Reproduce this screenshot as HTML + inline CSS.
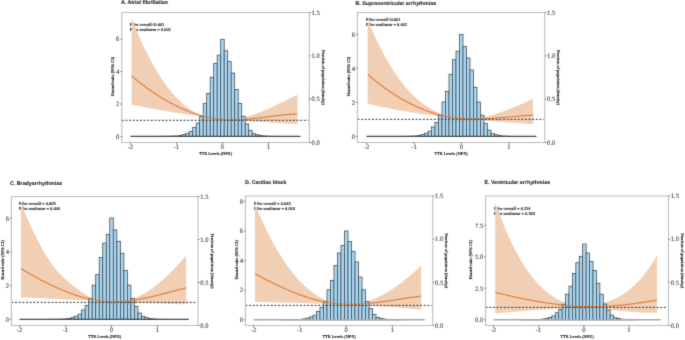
<!DOCTYPE html>
<html><head><meta charset="utf-8"><style>
html,body{margin:0;padding:0;background:#fff;}
body{width:685px;height:340px;overflow:hidden;font-family:"Liberation Sans", sans-serif;}
svg{display:block;will-change:transform;}
text{text-rendering:geometricPrecision;}
</style></head><body>
<svg width="685" height="340" viewBox="0 0 685 340">
<defs><filter id="soft" x="0" y="0" width="685" height="340" filterUnits="userSpaceOnUse" color-interpolation-filters="sRGB"><feConvolveMatrix order="3" kernelMatrix="0.0144 0.0912 0.0144 0.0912 0.5776 0.0912 0.0144 0.0912 0.0144" edgeMode="duplicate" preserveAlpha="true"/></filter></defs>
<g filter="url(#soft)">
<rect width="685" height="340" fill="#fff"/>
<text x="129.80" y="25.90" font-family="'Liberation Serif', serif" font-size="4.45" fill="#111" stroke="#111" stroke-width="0.15">P for overall&lt;0.001</text>
<text x="129.80" y="31.40" font-family="'Liberation Serif', serif" font-size="4.45" fill="#111" stroke="#111" stroke-width="0.15">P for nonlinear = 0.001</text>
<polygon points="131.60,18.09 132.10,19.37 132.60,20.65 133.10,21.91 133.60,23.17 134.10,24.41 134.60,25.65 135.10,26.87 135.60,28.09 136.10,29.29 136.60,30.49 137.10,31.68 137.60,32.85 138.10,34.02 138.60,35.18 139.10,36.33 139.60,37.47 140.10,38.60 140.60,39.72 141.10,40.83 141.60,41.93 142.10,43.02 142.60,44.10 143.10,45.18 143.60,46.24 144.10,47.29 144.60,48.34 145.10,49.38 145.60,50.41 146.10,51.42 146.60,52.43 147.10,53.43 147.60,54.43 148.10,55.41 148.60,56.38 149.10,57.35 149.60,58.30 150.10,59.25 150.60,60.19 151.10,61.12 151.60,62.04 152.10,62.95 152.60,63.86 153.10,64.75 153.60,65.64 154.10,66.52 154.60,67.39 155.10,68.25 155.60,69.10 156.10,69.95 156.60,70.78 157.10,71.61 157.60,72.43 158.10,73.24 158.60,74.04 159.10,74.84 159.60,75.63 160.10,76.40 160.60,77.17 161.10,77.94 161.60,78.69 162.10,79.44 162.60,80.18 163.10,80.91 163.60,81.63 164.10,82.34 164.60,83.05 165.10,83.75 165.60,84.44 166.10,85.12 166.60,85.80 167.10,86.46 167.60,87.12 168.10,87.78 168.60,88.42 169.10,89.06 169.60,89.69 170.10,90.31 170.60,90.93 171.10,91.53 171.60,92.13 172.10,92.73 172.60,93.31 173.10,93.89 173.60,94.46 174.10,95.02 174.60,95.58 175.10,96.13 175.60,96.67 176.10,97.21 176.60,97.73 177.10,98.25 177.60,98.77 178.10,99.28 178.60,99.77 179.10,100.27 179.60,100.75 180.10,101.23 180.60,101.71 181.10,102.17 181.60,102.63 182.10,103.08 182.60,103.53 183.10,103.97 183.60,104.40 184.10,104.82 184.60,105.24 185.10,105.65 185.60,106.06 186.10,106.46 186.60,106.85 187.10,107.24 187.60,107.62 188.10,107.99 188.60,108.36 189.10,108.72 189.60,109.08 190.10,109.43 190.60,109.77 191.10,110.11 191.60,110.44 192.10,110.76 192.60,111.08 193.10,111.39 193.60,111.70 194.10,112.00 194.60,112.29 195.10,112.58 195.60,112.86 196.10,113.14 196.60,113.41 197.10,113.68 197.60,113.94 198.10,114.19 198.60,114.44 199.10,114.68 199.60,114.92 200.10,115.15 200.60,115.38 201.10,115.60 201.60,115.81 202.10,116.02 202.60,116.23 203.10,116.42 203.60,116.62 204.10,116.81 204.60,116.99 205.10,117.17 205.60,117.34 206.10,117.51 206.60,117.67 207.10,117.83 207.60,117.98 208.10,118.13 208.60,118.27 209.10,118.40 209.60,118.54 210.10,118.66 210.60,118.79 211.10,118.90 211.60,119.02 212.10,119.12 212.60,119.23 213.10,119.33 213.60,119.42 214.10,119.51 214.60,119.59 215.10,119.67 215.60,119.75 216.10,119.82 216.60,119.89 217.10,119.95 217.60,120.00 218.10,120.06 218.60,120.11 219.10,120.15 219.60,120.19 220.10,120.23 220.60,120.26 221.10,120.29 221.60,120.31 222.10,120.33 222.60,120.34 223.10,120.35 223.60,120.36 224.10,120.36 224.60,120.36 225.10,120.36 225.60,120.35 226.10,120.33 226.60,120.32 227.10,120.30 227.60,120.27 228.10,120.25 228.60,120.21 229.10,120.18 229.60,120.14 230.10,120.10 230.60,120.05 231.10,120.00 231.60,119.95 232.10,119.89 232.60,119.83 233.10,119.77 233.60,119.70 234.10,119.63 234.60,119.55 235.10,119.48 235.60,119.40 236.10,119.31 236.60,119.23 237.10,119.14 237.60,119.04 238.10,118.95 238.60,118.85 239.10,118.75 239.60,118.64 240.10,118.53 240.60,118.42 241.10,118.31 241.60,118.19 242.10,118.07 242.60,117.95 243.10,117.82 243.60,117.69 244.10,117.56 244.60,117.43 245.10,117.29 245.60,117.15 246.10,117.01 246.60,116.87 247.10,116.72 247.60,116.57 248.10,116.42 248.60,116.27 249.10,116.11 249.60,115.95 250.10,115.79 250.60,115.63 251.10,115.46 251.60,115.29 252.10,115.13 252.60,114.95 253.10,114.78 253.60,114.60 254.10,114.42 254.60,114.24 255.10,114.06 255.60,113.88 256.10,113.69 256.60,113.50 257.10,113.31 257.60,113.12 258.10,112.93 258.60,112.73 259.10,112.53 259.60,112.34 260.10,112.13 260.60,111.93 261.10,111.73 261.60,111.52 262.10,111.32 262.60,111.11 263.10,110.90 263.60,110.69 264.10,110.47 264.60,110.26 265.10,110.04 265.60,109.83 266.10,109.61 266.60,109.39 267.10,109.17 267.60,108.95 268.10,108.72 268.60,108.50 269.10,108.27 269.60,108.05 270.10,107.82 270.60,107.59 271.10,107.36 271.60,107.13 272.10,106.90 272.60,106.67 273.10,106.44 273.60,106.20 274.10,105.97 274.60,105.73 275.10,105.50 275.60,105.26 276.10,105.02 276.60,104.79 277.10,104.55 277.60,104.31 278.10,104.07 278.60,103.83 279.10,103.59 279.60,103.35 280.10,103.11 280.60,102.86 281.10,102.62 281.60,102.38 282.10,102.14 282.60,101.90 283.10,101.65 283.60,101.41 284.10,101.17 284.60,100.92 285.10,100.68 285.60,100.44 286.10,100.19 286.60,99.95 287.10,99.71 287.60,99.46 288.10,99.22 288.60,98.98 289.10,98.74 289.60,98.49 290.10,98.25 290.60,98.01 291.10,97.77 291.60,97.53 292.10,97.29 292.60,97.05 293.10,96.81 293.60,96.57 294.10,96.33 294.60,96.09 295.10,95.85 295.60,95.62 296.10,95.38 296.60,95.14 297.10,94.91 297.60,94.67 297.60,94.67 297.40,124.07 297.10,124.05 296.60,124.03 296.10,124.01 295.60,123.98 295.10,123.96 294.60,123.93 294.10,123.91 293.60,123.89 293.10,123.86 292.60,123.84 292.10,123.81 291.60,123.79 291.10,123.76 290.60,123.74 290.10,123.71 289.60,123.69 289.10,123.66 288.60,123.64 288.10,123.61 287.60,123.58 287.10,123.56 286.60,123.53 286.10,123.51 285.60,123.48 285.10,123.45 284.60,123.43 284.10,123.40 283.60,123.37 283.10,123.34 282.60,123.32 282.10,123.29 281.60,123.26 281.10,123.23 280.60,123.21 280.10,123.18 279.60,123.15 279.10,123.12 278.60,123.09 278.10,123.06 277.60,123.04 277.10,123.01 276.60,122.98 276.10,122.95 275.60,122.92 275.10,122.89 274.60,122.86 274.10,122.83 273.60,122.80 273.10,122.77 272.60,122.74 272.10,122.71 271.60,122.68 271.10,122.64 270.60,122.61 270.10,122.58 269.60,122.55 269.10,122.52 268.60,122.49 268.10,122.46 267.60,122.42 267.10,122.39 266.60,122.36 266.10,122.33 265.60,122.29 265.10,122.26 264.60,122.23 264.10,122.19 263.60,122.16 263.10,122.12 262.60,122.09 262.10,122.06 261.60,122.02 261.10,121.99 260.60,121.95 260.10,121.92 259.60,121.88 259.10,121.85 258.60,121.81 258.10,121.78 257.60,121.74 257.10,121.70 256.60,121.67 256.10,121.63 255.60,121.59 255.10,121.56 254.60,121.52 254.10,121.48 253.60,121.45 253.10,121.41 252.60,121.37 252.10,121.33 251.60,121.29 251.10,121.26 250.60,121.22 250.10,121.18 249.60,121.14 249.10,121.10 248.60,121.06 248.10,121.02 247.60,120.98 247.10,120.94 246.60,120.90 246.10,120.86 245.60,120.82 245.10,120.78 244.60,120.74 244.10,120.70 243.60,120.65 243.10,120.61 242.60,120.57 242.10,120.53 241.60,120.49 241.10,120.44 240.60,120.40 240.10,120.36 239.60,120.32 239.10,120.27 238.60,120.23 238.10,120.18 237.60,120.14 237.10,120.10 236.60,120.05 236.10,120.01 235.60,119.96 235.10,119.92 234.60,119.87 234.10,119.82 233.60,119.78 233.10,119.73 232.60,119.69 232.10,119.64 231.60,119.59 231.10,119.55 230.60,119.50 230.10,119.45 229.60,119.40 229.10,119.36 228.60,119.31 228.10,119.26 227.60,119.21 227.10,119.16 226.60,119.11 226.10,119.06 225.60,119.01 225.10,118.96 224.60,118.91 224.10,118.86 223.60,118.81 223.10,118.76 222.60,118.71 222.10,118.66 221.60,118.61 221.10,118.56 220.60,118.50 220.10,118.45 219.60,118.40 219.10,118.35 218.60,118.29 218.10,118.24 217.60,118.19 217.10,118.13 216.60,118.08 216.10,118.02 215.60,117.97 215.10,117.91 214.60,117.86 214.10,117.80 213.60,117.75 213.10,117.69 212.60,117.64 212.10,117.58 211.60,117.52 211.10,117.47 210.60,117.41 210.10,117.35 209.60,117.29 209.10,117.24 208.60,117.18 208.10,117.12 207.60,117.06 207.10,117.00 206.60,116.94 206.10,116.88 205.60,116.82 205.10,116.76 204.60,116.70 204.10,116.64 203.60,116.58 203.10,116.52 202.60,116.46 202.10,116.40 201.60,116.33 201.10,116.27 200.60,116.21 200.10,116.15 199.60,116.08 199.10,116.02 198.60,115.96 198.10,115.89 197.60,115.83 197.10,115.76 196.60,115.70 196.10,115.63 195.60,115.57 195.10,115.50 194.60,115.44 194.10,115.37 193.60,115.30 193.10,115.24 192.60,115.17 192.10,115.10 191.60,115.04 191.10,114.97 190.60,114.90 190.10,114.83 189.60,114.76 189.10,114.69 188.60,114.62 188.10,114.55 187.60,114.48 187.10,114.41 186.60,114.34 186.10,114.27 185.60,114.20 185.10,114.13 184.60,114.06 184.10,113.98 183.60,113.91 183.10,113.84 182.60,113.77 182.10,113.69 181.60,113.62 181.10,113.55 180.60,113.47 180.10,113.40 179.60,113.32 179.10,113.25 178.60,113.17 178.10,113.10 177.60,113.02 177.10,112.94 176.60,112.87 176.10,112.79 175.60,112.71 175.10,112.63 174.60,112.56 174.10,112.48 173.60,112.40 173.10,112.32 172.60,112.24 172.10,112.16 171.60,112.08 171.10,112.00 170.60,111.92 170.10,111.84 169.60,111.76 169.10,111.68 168.60,111.59 168.10,111.51 167.60,111.43 167.10,111.35 166.60,111.26 166.10,111.18 165.60,111.10 165.10,111.01 164.60,110.93 164.10,110.84 163.60,110.76 163.10,110.67 162.60,110.59 162.10,110.50 161.60,110.41 161.10,110.33 160.60,110.24 160.10,110.15 159.60,110.06 159.10,109.97 158.60,109.89 158.10,109.80 157.60,109.71 157.10,109.62 156.60,109.53 156.10,109.44 155.60,109.35 155.10,109.26 154.60,109.16 154.10,109.07 153.60,108.98 153.10,108.89 152.60,108.80 152.10,108.70 151.60,108.61 151.10,108.52 150.60,108.42 150.10,108.33 149.60,108.23 149.10,108.14 148.60,108.04 148.10,107.94 147.60,107.85 147.10,107.75 146.60,107.65 146.10,107.56 145.60,107.46 145.10,107.36 144.60,107.26 144.10,107.16 143.60,107.07 143.10,106.97 142.60,106.87 142.10,106.77 141.60,106.66 141.10,106.56 140.60,106.46 140.10,106.36 139.60,106.26 139.10,106.16 138.60,106.05 138.10,105.95 137.60,105.85 137.10,105.74 136.60,105.64 136.10,105.53 135.60,105.43 135.10,105.32 134.60,105.22 134.10,105.11 133.60,105.00 133.10,104.90 132.60,104.79 132.10,104.68 131.60,104.57" fill="#f1cfb4" stroke="none"/>
<rect x="157.70" y="136.32" width="3.50" height="0.08" fill="#a9d8f4" stroke="#404448" stroke-width="0.75"/>
<rect x="161.20" y="136.30" width="3.50" height="0.10" fill="#a9d8f4" stroke="#404448" stroke-width="0.75"/>
<rect x="164.70" y="136.25" width="3.50" height="0.15" fill="#a9d8f4" stroke="#404448" stroke-width="0.75"/>
<rect x="168.20" y="136.21" width="3.50" height="0.19" fill="#a9d8f4" stroke="#404448" stroke-width="0.75"/>
<rect x="171.70" y="136.11" width="3.50" height="0.29" fill="#a9d8f4" stroke="#404448" stroke-width="0.75"/>
<rect x="175.20" y="136.01" width="3.50" height="0.39" fill="#a9d8f4" stroke="#404448" stroke-width="0.75"/>
<rect x="178.70" y="135.43" width="3.50" height="0.97" fill="#a9d8f4" stroke="#404448" stroke-width="0.75"/>
<rect x="182.20" y="134.46" width="3.50" height="1.94" fill="#a9d8f4" stroke="#404448" stroke-width="0.75"/>
<rect x="185.70" y="133.29" width="3.50" height="3.11" fill="#a9d8f4" stroke="#404448" stroke-width="0.75"/>
<rect x="189.20" y="131.35" width="3.50" height="5.05" fill="#a9d8f4" stroke="#404448" stroke-width="0.75"/>
<rect x="192.70" y="127.37" width="3.50" height="9.03" fill="#a9d8f4" stroke="#404448" stroke-width="0.75"/>
<rect x="196.20" y="123.00" width="3.50" height="13.40" fill="#a9d8f4" stroke="#404448" stroke-width="0.75"/>
<rect x="199.70" y="116.49" width="3.50" height="19.91" fill="#a9d8f4" stroke="#404448" stroke-width="0.75"/>
<rect x="203.20" y="103.58" width="3.50" height="32.82" fill="#a9d8f4" stroke="#404448" stroke-width="0.75"/>
<rect x="206.70" y="93.38" width="3.50" height="43.02" fill="#a9d8f4" stroke="#404448" stroke-width="0.75"/>
<rect x="210.20" y="77.17" width="3.50" height="59.23" fill="#a9d8f4" stroke="#404448" stroke-width="0.75"/>
<rect x="213.70" y="63.28" width="3.50" height="73.12" fill="#a9d8f4" stroke="#404448" stroke-width="0.75"/>
<rect x="217.20" y="55.13" width="3.50" height="81.27" fill="#a9d8f4" stroke="#404448" stroke-width="0.75"/>
<rect x="220.70" y="39.30" width="3.50" height="97.10" fill="#a9d8f4" stroke="#404448" stroke-width="0.75"/>
<rect x="224.20" y="50.76" width="3.50" height="85.64" fill="#a9d8f4" stroke="#404448" stroke-width="0.75"/>
<rect x="227.70" y="61.63" width="3.50" height="74.77" fill="#a9d8f4" stroke="#404448" stroke-width="0.75"/>
<rect x="231.20" y="73.09" width="3.50" height="63.31" fill="#a9d8f4" stroke="#404448" stroke-width="0.75"/>
<rect x="234.70" y="89.60" width="3.50" height="46.80" fill="#a9d8f4" stroke="#404448" stroke-width="0.75"/>
<rect x="238.20" y="103.58" width="3.50" height="32.82" fill="#a9d8f4" stroke="#404448" stroke-width="0.75"/>
<rect x="241.70" y="116.20" width="3.50" height="20.20" fill="#a9d8f4" stroke="#404448" stroke-width="0.75"/>
<rect x="245.20" y="123.97" width="3.50" height="12.43" fill="#a9d8f4" stroke="#404448" stroke-width="0.75"/>
<rect x="248.70" y="130.38" width="3.50" height="6.02" fill="#a9d8f4" stroke="#404448" stroke-width="0.75"/>
<rect x="252.20" y="133.68" width="3.50" height="2.72" fill="#a9d8f4" stroke="#404448" stroke-width="0.75"/>
<rect x="255.70" y="134.75" width="3.50" height="1.65" fill="#a9d8f4" stroke="#404448" stroke-width="0.75"/>
<rect x="259.20" y="135.62" width="3.50" height="0.78" fill="#a9d8f4" stroke="#404448" stroke-width="0.75"/>
<rect x="262.70" y="136.01" width="3.50" height="0.39" fill="#a9d8f4" stroke="#404448" stroke-width="0.75"/>
<rect x="266.20" y="136.21" width="3.50" height="0.19" fill="#a9d8f4" stroke="#404448" stroke-width="0.75"/>
<rect x="269.70" y="136.28" width="3.50" height="0.12" fill="#a9d8f4" stroke="#404448" stroke-width="0.75"/>
<rect x="273.20" y="136.32" width="3.50" height="0.08" fill="#a9d8f4" stroke="#404448" stroke-width="0.75"/>
<line x1="130.40" y1="136.40" x2="300.50" y2="136.40" stroke="#4a4a4a" stroke-width="1.2"/>
<polyline points="131.60,75.99 132.10,76.41 132.60,76.82 133.10,77.24 133.60,77.65 134.10,78.06 134.60,78.46 135.10,78.87 135.60,79.27 136.10,79.68 136.60,80.08 137.10,80.48 137.60,80.87 138.10,81.27 138.60,81.66 139.10,82.05 139.60,82.44 140.10,82.83 140.60,83.21 141.10,83.60 141.60,83.98 142.10,84.36 142.60,84.74 143.10,85.12 143.60,85.49 144.10,85.87 144.60,86.24 145.10,86.61 145.60,86.97 146.10,87.34 146.60,87.70 147.10,88.07 147.60,88.43 148.10,88.79 148.60,89.14 149.10,89.50 149.60,89.85 150.10,90.20 150.60,90.55 151.10,90.90 151.60,91.24 152.10,91.59 152.60,91.93 153.10,92.27 153.60,92.60 154.10,92.94 154.60,93.27 155.10,93.61 155.60,93.94 156.10,94.27 156.60,94.59 157.10,94.92 157.60,95.24 158.10,95.56 158.60,95.88 159.10,96.20 159.60,96.51 160.10,96.82 160.60,97.13 161.10,97.44 161.60,97.75 162.10,98.05 162.60,98.36 163.10,98.66 163.60,98.96 164.10,99.26 164.60,99.55 165.10,99.84 165.60,100.14 166.10,100.42 166.60,100.71 167.10,101.00 167.60,101.28 168.10,101.56 168.60,101.84 169.10,102.12 169.60,102.39 170.10,102.67 170.60,102.94 171.10,103.21 171.60,103.48 172.10,103.74 172.60,104.00 173.10,104.26 173.60,104.52 174.10,104.78 174.60,105.04 175.10,105.29 175.60,105.54 176.10,105.79 176.60,106.04 177.10,106.28 177.60,106.52 178.10,106.76 178.60,107.00 179.10,107.24 179.60,107.47 180.10,107.70 180.60,107.94 181.10,108.16 181.60,108.39 182.10,108.61 182.60,108.84 183.10,109.05 183.60,109.27 184.10,109.49 184.60,109.70 185.10,109.91 185.60,110.12 186.10,110.33 186.60,110.53 187.10,110.74 187.60,110.94 188.10,111.14 188.60,111.33 189.10,111.53 189.60,111.72 190.10,111.91 190.60,112.10 191.10,112.28 191.60,112.46 192.10,112.65 192.60,112.82 193.10,113.00 193.60,113.18 194.10,113.35 194.60,113.52 195.10,113.69 195.60,113.85 196.10,114.02 196.60,114.18 197.10,114.34 197.60,114.49 198.10,114.65 198.60,114.80 199.10,114.95 199.60,115.10 200.10,115.25 200.60,115.39 201.10,115.53 201.60,115.67 202.10,115.81 202.60,115.94 203.10,116.07 203.60,116.20 204.10,116.33 204.60,116.46 205.10,116.58 205.60,116.70 206.10,116.82 206.60,116.94 207.10,117.05 207.60,117.17 208.10,117.28 208.60,117.38 209.10,117.49 209.60,117.59 210.10,117.69 210.60,117.79 211.10,117.89 211.60,117.98 212.10,118.07 212.60,118.16 213.10,118.25 213.60,118.33 214.10,118.41 214.60,118.49 215.10,118.57 215.60,118.65 216.10,118.72 216.60,118.79 217.10,118.86 217.60,118.92 218.10,118.99 218.60,119.05 219.10,119.11 219.60,119.16 220.10,119.22 220.60,119.27 221.10,119.32 221.60,119.36 222.10,119.41 222.60,119.45 223.10,119.49 223.60,119.53 224.10,119.56 224.60,119.59 225.10,119.63 225.60,119.65 226.10,119.68 226.60,119.70 227.10,119.73 227.60,119.74 228.10,119.76 228.60,119.78 229.10,119.79 229.60,119.80 230.10,119.81 230.60,119.82 231.10,119.83 231.60,119.83 232.10,119.83 232.60,119.83 233.10,119.83 233.60,119.83 234.10,119.82 234.60,119.81 235.10,119.80 235.60,119.79 236.10,119.78 236.60,119.77 237.10,119.75 237.60,119.74 238.10,119.72 238.60,119.70 239.10,119.67 239.60,119.65 240.10,119.63 240.60,119.60 241.10,119.57 241.60,119.55 242.10,119.51 242.60,119.48 243.10,119.45 243.60,119.42 244.10,119.38 244.60,119.34 245.10,119.31 245.60,119.27 246.10,119.23 246.60,119.19 247.10,119.15 247.60,119.10 248.10,119.06 248.60,119.01 249.10,118.97 249.60,118.92 250.10,118.87 250.60,118.82 251.10,118.77 251.60,118.72 252.10,118.67 252.60,118.62 253.10,118.56 253.60,118.51 254.10,118.46 254.60,118.40 255.10,118.34 255.60,118.29 256.10,118.23 256.60,118.17 257.10,118.11 257.60,118.06 258.10,118.00 258.60,117.94 259.10,117.88 259.60,117.82 260.10,117.75 260.60,117.69 261.10,117.63 261.60,117.57 262.10,117.51 262.60,117.44 263.10,117.38 263.60,117.32 264.10,117.25 264.60,117.19 265.10,117.13 265.60,117.06 266.10,117.00 266.60,116.93 267.10,116.87 267.60,116.81 268.10,116.74 268.60,116.68 269.10,116.62 269.60,116.55 270.10,116.49 270.60,116.42 271.10,116.36 271.60,116.30 272.10,116.24 272.60,116.17 273.10,116.11 273.60,116.05 274.10,115.99 274.60,115.93 275.10,115.86 275.60,115.80 276.10,115.74 276.60,115.68 277.10,115.63 277.60,115.57 278.10,115.51 278.60,115.45 279.10,115.39 279.60,115.34 280.10,115.28 280.60,115.23 281.10,115.17 281.60,115.12 282.10,115.07 282.60,115.02 283.10,114.97 283.60,114.91 284.10,114.87 284.60,114.82 285.10,114.77 285.60,114.72 286.10,114.68 286.60,114.63 287.10,114.59 287.60,114.55 288.10,114.51 288.60,114.46 289.10,114.43 289.60,114.39 290.10,114.35 290.60,114.31 291.10,114.28 291.60,114.25 292.10,114.22 292.60,114.18 293.10,114.16 293.60,114.13 294.10,114.10 294.60,114.08 295.10,114.05 295.60,114.03 296.10,114.01 296.60,113.99 297.10,113.97 297.40,113.96" fill="none" stroke="#dd7a35" stroke-width="1.1"/>
<line x1="121.80" y1="120.30" x2="308.30" y2="120.30" stroke="#333" stroke-width="1.0" stroke-dasharray="2.0,1.64"/>
<path d="M121.8,142.5 L121.8,12.5 L309.3,12.5 L309.3,142.5 Z" fill="none" stroke="#bdbdbd" stroke-width="1.1"/>
<line x1="120.20" y1="136.40" x2="121.80" y2="136.40" stroke="#555" stroke-width="0.7"/>
<text x="119.40" y="138.60" text-anchor="end" font-family="'Liberation Serif', serif" font-size="6.6" fill="#3a3a3a" stroke="#3a3a3a" stroke-width="0.1">0</text>
<line x1="120.20" y1="104.00" x2="121.80" y2="104.00" stroke="#555" stroke-width="0.7"/>
<text x="119.40" y="106.20" text-anchor="end" font-family="'Liberation Serif', serif" font-size="6.6" fill="#3a3a3a" stroke="#3a3a3a" stroke-width="0.1">2</text>
<line x1="120.20" y1="71.60" x2="121.80" y2="71.60" stroke="#555" stroke-width="0.7"/>
<text x="119.40" y="73.80" text-anchor="end" font-family="'Liberation Serif', serif" font-size="6.6" fill="#3a3a3a" stroke="#3a3a3a" stroke-width="0.1">4</text>
<line x1="120.20" y1="39.20" x2="121.80" y2="39.20" stroke="#555" stroke-width="0.7"/>
<text x="119.40" y="41.40" text-anchor="end" font-family="'Liberation Serif', serif" font-size="6.6" fill="#3a3a3a" stroke="#3a3a3a" stroke-width="0.1">6</text>
<line x1="309.30" y1="142.50" x2="310.90" y2="142.50" stroke="#555" stroke-width="0.7"/>
<text x="311.60" y="144.70" font-family="'Liberation Serif', serif" font-size="6.6" fill="#3a3a3a" stroke="#3a3a3a" stroke-width="0.1">0.0</text>
<line x1="309.30" y1="99.17" x2="310.90" y2="99.17" stroke="#555" stroke-width="0.7"/>
<text x="311.60" y="101.37" font-family="'Liberation Serif', serif" font-size="6.6" fill="#3a3a3a" stroke="#3a3a3a" stroke-width="0.1">0.5</text>
<line x1="309.30" y1="55.83" x2="310.90" y2="55.83" stroke="#555" stroke-width="0.7"/>
<text x="311.60" y="58.03" font-family="'Liberation Serif', serif" font-size="6.6" fill="#3a3a3a" stroke="#3a3a3a" stroke-width="0.1">1.0</text>
<line x1="309.30" y1="12.50" x2="310.90" y2="12.50" stroke="#555" stroke-width="0.7"/>
<text x="311.60" y="14.70" font-family="'Liberation Serif', serif" font-size="6.6" fill="#3a3a3a" stroke="#3a3a3a" stroke-width="0.1">1.5</text>
<line x1="130.40" y1="142.50" x2="130.40" y2="144.10" stroke="#555" stroke-width="0.7"/>
<text x="130.40" y="149.30" text-anchor="middle" font-family="'Liberation Serif', serif" font-size="6.6" fill="#3a3a3a" stroke="#3a3a3a" stroke-width="0.1">-2</text>
<line x1="176.40" y1="142.50" x2="176.40" y2="144.10" stroke="#555" stroke-width="0.7"/>
<text x="176.40" y="149.30" text-anchor="middle" font-family="'Liberation Serif', serif" font-size="6.6" fill="#3a3a3a" stroke="#3a3a3a" stroke-width="0.1">-1</text>
<line x1="222.40" y1="142.50" x2="222.40" y2="144.10" stroke="#555" stroke-width="0.7"/>
<text x="222.40" y="149.30" text-anchor="middle" font-family="'Liberation Serif', serif" font-size="6.6" fill="#3a3a3a" stroke="#3a3a3a" stroke-width="0.1">0</text>
<line x1="268.40" y1="142.50" x2="268.40" y2="144.10" stroke="#555" stroke-width="0.7"/>
<text x="268.40" y="149.30" text-anchor="middle" font-family="'Liberation Serif', serif" font-size="6.6" fill="#3a3a3a" stroke="#3a3a3a" stroke-width="0.1">1</text>
<text x="215.55" y="155.30" text-anchor="middle" font-family="'Liberation Serif', serif" font-size="4.3" fill="#111" stroke="#111" stroke-width="0.15">TTR Levels (NPX)</text>
<text transform="translate(114.20,76.50) rotate(-90)" text-anchor="middle" font-family="'Liberation Serif', serif" font-size="4.4" fill="#111" stroke="#111" stroke-width="0.15">Hazard ratio (95% CI)</text>
<text transform="translate(321.90,77.50) rotate(90)" text-anchor="middle" font-family="'Liberation Serif', serif" font-size="4.3" fill="#111" stroke="#111" stroke-width="0.15">Fraction of population (density)</text>
<text x="120.90" y="4.30" font-family="'Liberation Sans', sans-serif" font-weight="bold" font-size="5.3" fill="#3a2f2f" stroke="#3a2f2f" stroke-width="0.15">A. Atrial fibrillation</text>
<text x="365.90" y="21.10" font-family="'Liberation Serif', serif" font-size="4.45" fill="#111" stroke="#111" stroke-width="0.15">P for overall&lt;0.001</text>
<text x="365.90" y="26.40" font-family="'Liberation Serif', serif" font-size="4.45" fill="#111" stroke="#111" stroke-width="0.15">P for nonlinear = 0.002</text>
<polygon points="367.70,19.59 368.20,20.82 368.70,22.04 369.20,23.25 369.70,24.44 370.20,25.63 370.70,26.81 371.20,27.98 371.70,29.14 372.20,30.29 372.70,31.43 373.20,32.56 373.70,33.68 374.20,34.79 374.70,35.89 375.20,36.98 375.70,38.06 376.20,39.13 376.70,40.19 377.20,41.25 377.70,42.29 378.20,43.33 378.70,44.35 379.20,45.37 379.70,46.37 380.20,47.37 380.70,48.36 381.20,49.34 381.70,50.31 382.20,51.27 382.70,52.23 383.20,53.17 383.70,54.11 384.20,55.03 384.70,55.95 385.20,56.86 385.70,57.76 386.20,58.65 386.70,59.53 387.20,60.41 387.70,61.27 388.20,62.13 388.70,62.98 389.20,63.82 389.70,64.66 390.20,65.48 390.70,66.30 391.20,67.10 391.70,67.90 392.20,68.70 392.70,69.48 393.20,70.26 393.70,71.02 394.20,71.78 394.70,72.54 395.20,73.28 395.70,74.02 396.20,74.75 396.70,75.47 397.20,76.18 397.70,76.89 398.20,77.58 398.70,78.27 399.20,78.96 399.70,79.63 400.20,80.30 400.70,80.96 401.20,81.62 401.70,82.26 402.20,82.90 402.70,83.53 403.20,84.16 403.70,84.78 404.20,85.39 404.70,85.99 405.20,86.59 405.70,87.18 406.20,87.76 406.70,88.34 407.20,88.91 407.70,89.47 408.20,90.03 408.70,90.57 409.20,91.12 409.70,91.65 410.20,92.18 410.70,92.71 411.20,93.22 411.70,93.73 412.20,94.24 412.70,94.73 413.20,95.23 413.70,95.71 414.20,96.19 414.70,96.66 415.20,97.13 415.70,97.59 416.20,98.04 416.70,98.49 417.20,98.94 417.70,99.37 418.20,99.80 418.70,100.23 419.20,100.65 419.70,101.06 420.20,101.47 420.70,101.87 421.20,102.27 421.70,102.66 422.20,103.05 422.70,103.43 423.20,103.80 423.70,104.17 424.20,104.54 424.70,104.89 425.20,105.25 425.70,105.60 426.20,105.94 426.70,106.28 427.20,106.61 427.70,106.94 428.20,107.26 428.70,107.58 429.20,107.89 429.70,108.20 430.20,108.50 430.70,108.80 431.20,109.09 431.70,109.38 432.20,109.67 432.70,109.94 433.20,110.22 433.70,110.49 434.20,110.75 434.70,111.01 435.20,111.26 435.70,111.51 436.20,111.76 436.70,112.00 437.20,112.23 437.70,112.46 438.20,112.69 438.70,112.91 439.20,113.13 439.70,113.34 440.20,113.55 440.70,113.75 441.20,113.95 441.70,114.14 442.20,114.33 442.70,114.52 443.20,114.70 443.70,114.88 444.20,115.05 444.70,115.22 445.20,115.38 445.70,115.54 446.20,115.70 446.70,115.85 447.20,116.00 447.70,116.14 448.20,116.28 448.70,116.41 449.20,116.54 449.70,116.67 450.20,116.79 450.70,116.91 451.20,117.02 451.70,117.13 452.20,117.24 452.70,117.34 453.20,117.44 453.70,117.53 454.20,117.62 454.70,117.71 455.20,117.79 455.70,117.87 456.20,117.95 456.70,118.02 457.20,118.09 457.70,118.15 458.20,118.21 458.70,118.27 459.20,118.32 459.70,118.37 460.20,118.42 460.70,118.46 461.20,118.50 461.70,118.53 462.20,118.56 462.70,118.59 463.20,118.62 463.70,118.64 464.20,118.65 464.70,118.67 465.20,118.68 465.70,118.69 466.20,118.69 466.70,118.69 467.20,118.69 467.70,118.69 468.20,118.68 468.70,118.66 469.20,118.65 469.70,118.63 470.20,118.61 470.70,118.58 471.20,118.56 471.70,118.53 472.20,118.49 472.70,118.46 473.20,118.42 473.70,118.37 474.20,118.33 474.70,118.28 475.20,118.23 475.70,118.17 476.20,118.12 476.70,118.05 477.20,117.99 477.70,117.93 478.20,117.86 478.70,117.79 479.20,117.71 479.70,117.64 480.20,117.56 480.70,117.47 481.20,117.39 481.70,117.30 482.20,117.21 482.70,117.12 483.20,117.02 483.70,116.93 484.20,116.83 484.70,116.72 485.20,116.62 485.70,116.51 486.20,116.40 486.70,116.29 487.20,116.18 487.70,116.06 488.20,115.94 488.70,115.82 489.20,115.69 489.70,115.57 490.20,115.44 490.70,115.31 491.20,115.18 491.70,115.04 492.20,114.91 492.70,114.77 493.20,114.63 493.70,114.48 494.20,114.34 494.70,114.19 495.20,114.04 495.70,113.89 496.20,113.74 496.70,113.58 497.20,113.43 497.70,113.27 498.20,113.11 498.70,112.94 499.20,112.78 499.70,112.61 500.20,112.45 500.70,112.28 501.20,112.11 501.70,111.93 502.20,111.76 502.70,111.58 503.20,111.40 503.70,111.23 504.20,111.04 504.70,110.86 505.20,110.68 505.70,110.49 506.20,110.31 506.70,110.12 507.20,109.93 507.70,109.74 508.20,109.54 508.70,109.35 509.20,109.15 509.70,108.96 510.20,108.76 510.70,108.56 511.20,108.36 511.70,108.16 512.20,107.96 512.70,107.75 513.20,107.55 513.70,107.34 514.20,107.13 514.70,106.92 515.20,106.72 515.70,106.50 516.20,106.29 516.70,106.08 517.20,105.87 517.70,105.65 518.20,105.44 518.70,105.22 519.20,105.00 519.70,104.79 520.20,104.57 520.70,104.35 521.20,104.13 521.70,103.91 522.20,103.68 522.70,103.46 523.20,103.24 523.70,103.01 524.20,102.79 524.70,102.56 525.20,102.34 525.70,102.11 526.20,101.88 526.70,101.66 527.20,101.43 527.70,101.20 528.20,100.97 528.70,100.74 529.20,100.51 529.70,100.28 530.20,100.05 530.70,99.82 531.20,99.59 531.70,99.36 532.20,99.12 532.70,98.89 532.80,98.85 533.30,124.20 533.20,124.19 532.70,124.15 532.20,124.12 531.70,124.08 531.20,124.05 530.70,124.02 530.20,123.98 529.70,123.95 529.20,123.91 528.70,123.88 528.20,123.84 527.70,123.81 527.20,123.78 526.70,123.74 526.20,123.71 525.70,123.67 525.20,123.64 524.70,123.60 524.20,123.57 523.70,123.54 523.20,123.50 522.70,123.47 522.20,123.43 521.70,123.40 521.20,123.36 520.70,123.33 520.20,123.30 519.70,123.26 519.20,123.23 518.70,123.19 518.20,123.16 517.70,123.12 517.20,123.09 516.70,123.05 516.20,123.02 515.70,122.98 515.20,122.95 514.70,122.92 514.20,122.88 513.70,122.85 513.20,122.81 512.70,122.78 512.20,122.74 511.70,122.71 511.20,122.67 510.70,122.64 510.20,122.60 509.70,122.57 509.20,122.53 508.70,122.50 508.20,122.46 507.70,122.43 507.20,122.39 506.70,122.35 506.20,122.32 505.70,122.28 505.20,122.25 504.70,122.21 504.20,122.18 503.70,122.14 503.20,122.10 502.70,122.07 502.20,122.03 501.70,122.00 501.20,121.96 500.70,121.92 500.20,121.89 499.70,121.85 499.20,121.81 498.70,121.78 498.20,121.74 497.70,121.70 497.20,121.67 496.70,121.63 496.20,121.59 495.70,121.55 495.20,121.52 494.70,121.48 494.20,121.44 493.70,121.40 493.20,121.37 492.70,121.33 492.20,121.29 491.70,121.25 491.20,121.21 490.70,121.17 490.20,121.14 489.70,121.10 489.20,121.06 488.70,121.02 488.20,120.98 487.70,120.94 487.20,120.90 486.70,120.86 486.20,120.82 485.70,120.78 485.20,120.74 484.70,120.70 484.20,120.66 483.70,120.62 483.20,120.58 482.70,120.54 482.20,120.50 481.70,120.46 481.20,120.42 480.70,120.38 480.20,120.34 479.70,120.30 479.20,120.25 478.70,120.21 478.20,120.17 477.70,120.13 477.20,120.09 476.70,120.04 476.20,120.00 475.70,119.96 475.20,119.91 474.70,119.87 474.20,119.83 473.70,119.78 473.20,119.74 472.70,119.70 472.20,119.65 471.70,119.61 471.20,119.56 470.70,119.52 470.20,119.47 469.70,119.43 469.20,119.38 468.70,119.34 468.20,119.29 467.70,119.25 467.20,119.20 466.70,119.16 466.20,119.11 465.70,119.06 465.20,119.02 464.70,118.97 464.20,118.92 463.70,118.87 463.20,118.83 462.70,118.78 462.20,118.73 461.70,118.68 461.20,118.63 460.70,118.58 460.20,118.53 459.70,118.49 459.20,118.44 458.70,118.39 458.20,118.34 457.70,118.29 457.20,118.24 456.70,118.18 456.20,118.13 455.70,118.08 455.20,118.03 454.70,117.98 454.20,117.93 453.70,117.88 453.20,117.82 452.70,117.77 452.20,117.72 451.70,117.66 451.20,117.61 450.70,117.56 450.20,117.50 449.70,117.45 449.20,117.39 448.70,117.34 448.20,117.29 447.70,117.23 447.20,117.17 446.70,117.12 446.20,117.06 445.70,117.01 445.20,116.95 444.70,116.89 444.20,116.84 443.70,116.78 443.20,116.72 442.70,116.66 442.20,116.60 441.70,116.54 441.20,116.49 440.70,116.43 440.20,116.37 439.70,116.31 439.20,116.25 438.70,116.19 438.20,116.13 437.70,116.07 437.20,116.00 436.70,115.94 436.20,115.88 435.70,115.82 435.20,115.76 434.70,115.69 434.20,115.63 433.70,115.57 433.20,115.50 432.70,115.44 432.20,115.37 431.70,115.31 431.20,115.24 430.70,115.18 430.20,115.11 429.70,115.05 429.20,114.98 428.70,114.91 428.20,114.84 427.70,114.78 427.20,114.71 426.70,114.64 426.20,114.57 425.70,114.50 425.20,114.43 424.70,114.37 424.20,114.30 423.70,114.22 423.20,114.15 422.70,114.08 422.20,114.01 421.70,113.94 421.20,113.87 420.70,113.80 420.20,113.72 419.70,113.65 419.20,113.58 418.70,113.50 418.20,113.43 417.70,113.35 417.20,113.28 416.70,113.20 416.20,113.13 415.70,113.05 415.20,112.97 414.70,112.90 414.20,112.82 413.70,112.74 413.20,112.66 412.70,112.59 412.20,112.51 411.70,112.43 411.20,112.35 410.70,112.27 410.20,112.19 409.70,112.11 409.20,112.02 408.70,111.94 408.20,111.86 407.70,111.78 407.20,111.69 406.70,111.61 406.20,111.53 405.70,111.44 405.20,111.36 404.70,111.27 404.20,111.19 403.70,111.10 403.20,111.02 402.70,110.93 402.20,110.84 401.70,110.75 401.20,110.67 400.70,110.58 400.20,110.49 399.70,110.40 399.20,110.31 398.70,110.22 398.20,110.13 397.70,110.04 397.20,109.95 396.70,109.85 396.20,109.76 395.70,109.67 395.20,109.58 394.70,109.48 394.20,109.39 393.70,109.29 393.20,109.20 392.70,109.10 392.20,109.01 391.70,108.91 391.20,108.81 390.70,108.71 390.20,108.62 389.70,108.52 389.20,108.42 388.70,108.32 388.20,108.22 387.70,108.12 387.20,108.02 386.70,107.92 386.20,107.82 385.70,107.71 385.20,107.61 384.70,107.51 384.20,107.40 383.70,107.30 383.20,107.19 382.70,107.09 382.20,106.98 381.70,106.88 381.20,106.77 380.70,106.66 380.20,106.55 379.70,106.45 379.20,106.34 378.70,106.23 378.20,106.12 377.70,106.01 377.20,105.90 376.70,105.79 376.20,105.67 375.70,105.56 375.20,105.45 374.70,105.33 374.20,105.22 373.70,105.11 373.20,104.99 372.70,104.88 372.20,104.76 371.70,104.64 371.20,104.53 370.70,104.41 370.20,104.29 369.70,104.17 369.20,104.05 368.70,103.93 368.20,103.81 367.70,103.69" fill="#f1cfb4" stroke="none"/>
<rect x="396.50" y="136.37" width="3.50" height="0.08" fill="#a9d8f4" stroke="#404448" stroke-width="0.75"/>
<rect x="400.00" y="136.35" width="3.50" height="0.10" fill="#a9d8f4" stroke="#404448" stroke-width="0.75"/>
<rect x="403.50" y="136.30" width="3.50" height="0.15" fill="#a9d8f4" stroke="#404448" stroke-width="0.75"/>
<rect x="407.00" y="136.25" width="3.50" height="0.20" fill="#a9d8f4" stroke="#404448" stroke-width="0.75"/>
<rect x="410.50" y="136.14" width="3.50" height="0.31" fill="#a9d8f4" stroke="#404448" stroke-width="0.75"/>
<rect x="414.00" y="136.04" width="3.50" height="0.41" fill="#a9d8f4" stroke="#404448" stroke-width="0.75"/>
<rect x="417.50" y="135.43" width="3.50" height="1.02" fill="#a9d8f4" stroke="#404448" stroke-width="0.75"/>
<rect x="421.00" y="134.41" width="3.50" height="2.04" fill="#a9d8f4" stroke="#404448" stroke-width="0.75"/>
<rect x="424.50" y="133.19" width="3.50" height="3.26" fill="#a9d8f4" stroke="#404448" stroke-width="0.75"/>
<rect x="428.00" y="131.15" width="3.50" height="5.30" fill="#a9d8f4" stroke="#404448" stroke-width="0.75"/>
<rect x="431.50" y="126.97" width="3.50" height="9.48" fill="#a9d8f4" stroke="#404448" stroke-width="0.75"/>
<rect x="435.00" y="122.39" width="3.50" height="14.06" fill="#a9d8f4" stroke="#404448" stroke-width="0.75"/>
<rect x="438.50" y="115.56" width="3.50" height="20.89" fill="#a9d8f4" stroke="#404448" stroke-width="0.75"/>
<rect x="442.00" y="102.01" width="3.50" height="34.44" fill="#a9d8f4" stroke="#404448" stroke-width="0.75"/>
<rect x="445.50" y="91.31" width="3.50" height="45.14" fill="#a9d8f4" stroke="#404448" stroke-width="0.75"/>
<rect x="449.00" y="74.29" width="3.50" height="62.16" fill="#a9d8f4" stroke="#404448" stroke-width="0.75"/>
<rect x="452.50" y="59.72" width="3.50" height="76.73" fill="#a9d8f4" stroke="#404448" stroke-width="0.75"/>
<rect x="456.00" y="51.16" width="3.50" height="85.29" fill="#a9d8f4" stroke="#404448" stroke-width="0.75"/>
<rect x="459.50" y="34.55" width="3.50" height="101.90" fill="#a9d8f4" stroke="#404448" stroke-width="0.75"/>
<rect x="463.00" y="46.57" width="3.50" height="89.88" fill="#a9d8f4" stroke="#404448" stroke-width="0.75"/>
<rect x="466.50" y="57.99" width="3.50" height="78.46" fill="#a9d8f4" stroke="#404448" stroke-width="0.75"/>
<rect x="470.00" y="70.01" width="3.50" height="66.44" fill="#a9d8f4" stroke="#404448" stroke-width="0.75"/>
<rect x="473.50" y="87.33" width="3.50" height="49.12" fill="#a9d8f4" stroke="#404448" stroke-width="0.75"/>
<rect x="477.00" y="102.01" width="3.50" height="34.44" fill="#a9d8f4" stroke="#404448" stroke-width="0.75"/>
<rect x="480.50" y="115.25" width="3.50" height="21.20" fill="#a9d8f4" stroke="#404448" stroke-width="0.75"/>
<rect x="484.00" y="123.41" width="3.50" height="13.04" fill="#a9d8f4" stroke="#404448" stroke-width="0.75"/>
<rect x="487.50" y="130.13" width="3.50" height="6.32" fill="#a9d8f4" stroke="#404448" stroke-width="0.75"/>
<rect x="491.00" y="133.60" width="3.50" height="2.85" fill="#a9d8f4" stroke="#404448" stroke-width="0.75"/>
<rect x="494.50" y="134.72" width="3.50" height="1.73" fill="#a9d8f4" stroke="#404448" stroke-width="0.75"/>
<rect x="498.00" y="135.63" width="3.50" height="0.82" fill="#a9d8f4" stroke="#404448" stroke-width="0.75"/>
<rect x="501.50" y="136.04" width="3.50" height="0.41" fill="#a9d8f4" stroke="#404448" stroke-width="0.75"/>
<rect x="505.00" y="136.25" width="3.50" height="0.20" fill="#a9d8f4" stroke="#404448" stroke-width="0.75"/>
<rect x="508.50" y="136.33" width="3.50" height="0.12" fill="#a9d8f4" stroke="#404448" stroke-width="0.75"/>
<rect x="512.00" y="136.37" width="3.50" height="0.08" fill="#a9d8f4" stroke="#404448" stroke-width="0.75"/>
<line x1="366.46" y1="136.45" x2="536.40" y2="136.45" stroke="#4a4a4a" stroke-width="1.2"/>
<polyline points="367.70,74.23 368.20,74.67 368.70,75.11 369.20,75.55 369.70,75.99 370.20,76.43 370.70,76.86 371.20,77.29 371.70,77.72 372.20,78.14 372.70,78.56 373.20,78.98 373.70,79.40 374.20,79.82 374.70,80.23 375.20,80.64 375.70,81.04 376.20,81.45 376.70,81.85 377.20,82.25 377.70,82.65 378.20,83.04 378.70,83.44 379.20,83.83 379.70,84.21 380.20,84.60 380.70,84.98 381.20,85.36 381.70,85.74 382.20,86.12 382.70,86.49 383.20,86.86 383.70,87.23 384.20,87.60 384.70,87.96 385.20,88.32 385.70,88.68 386.20,89.04 386.70,89.39 387.20,89.74 387.70,90.09 388.20,90.44 388.70,90.79 389.20,91.13 389.70,91.47 390.20,91.81 390.70,92.15 391.20,92.48 391.70,92.81 392.20,93.14 392.70,93.47 393.20,93.79 393.70,94.12 394.20,94.44 394.70,94.76 395.20,95.07 395.70,95.39 396.20,95.70 396.70,96.01 397.20,96.31 397.70,96.62 398.20,96.92 398.70,97.22 399.20,97.52 399.70,97.82 400.20,98.12 400.70,98.41 401.20,98.70 401.70,98.99 402.20,99.27 402.70,99.56 403.20,99.84 403.70,100.12 404.20,100.40 404.70,100.68 405.20,100.95 405.70,101.22 406.20,101.49 406.70,101.76 407.20,102.03 407.70,102.29 408.20,102.55 408.70,102.81 409.20,103.07 409.70,103.33 410.20,103.58 410.70,103.83 411.20,104.08 411.70,104.33 412.20,104.58 412.70,104.82 413.20,105.06 413.70,105.30 414.20,105.54 414.70,105.77 415.20,106.01 415.70,106.24 416.20,106.47 416.70,106.70 417.20,106.92 417.70,107.14 418.20,107.37 418.70,107.58 419.20,107.80 419.70,108.02 420.20,108.23 420.70,108.44 421.20,108.65 421.70,108.86 422.20,109.06 422.70,109.26 423.20,109.46 423.70,109.66 424.20,109.86 424.70,110.05 425.20,110.24 425.70,110.43 426.20,110.62 426.70,110.81 427.20,110.99 427.70,111.17 428.20,111.35 428.70,111.53 429.20,111.71 429.70,111.88 430.20,112.05 430.70,112.22 431.20,112.39 431.70,112.55 432.20,112.71 432.70,112.87 433.20,113.03 433.70,113.19 434.20,113.34 434.70,113.50 435.20,113.65 435.70,113.79 436.20,113.94 436.70,114.08 437.20,114.23 437.70,114.37 438.20,114.50 438.70,114.64 439.20,114.77 439.70,114.90 440.20,115.03 440.70,115.16 441.20,115.28 441.70,115.41 442.20,115.53 442.70,115.65 443.20,115.76 443.70,115.88 444.20,115.99 444.70,116.10 445.20,116.21 445.70,116.31 446.20,116.41 446.70,116.52 447.20,116.61 447.70,116.71 448.20,116.81 448.70,116.90 449.20,116.99 449.70,117.08 450.20,117.16 450.70,117.25 451.20,117.33 451.70,117.41 452.20,117.49 452.70,117.56 453.20,117.64 453.70,117.71 454.20,117.78 454.70,117.84 455.20,117.91 455.70,117.97 456.20,118.03 456.70,118.09 457.20,118.15 457.70,118.20 458.20,118.26 458.70,118.31 459.20,118.36 459.70,118.41 460.20,118.45 460.70,118.49 461.20,118.54 461.70,118.58 462.20,118.61 462.70,118.65 463.20,118.69 463.70,118.72 464.20,118.75 464.70,118.78 465.20,118.81 465.70,118.83 466.20,118.86 466.70,118.88 467.20,118.90 467.70,118.92 468.20,118.94 468.70,118.96 469.20,118.97 469.70,118.99 470.20,119.00 470.70,119.01 471.20,119.02 471.70,119.03 472.20,119.03 472.70,119.04 473.20,119.04 473.70,119.05 474.20,119.05 474.70,119.05 475.20,119.04 475.70,119.04 476.20,119.04 476.70,119.03 477.20,119.03 477.70,119.02 478.20,119.01 478.70,119.00 479.20,118.99 479.70,118.98 480.20,118.96 480.70,118.95 481.20,118.93 481.70,118.92 482.20,118.90 482.70,118.88 483.20,118.86 483.70,118.84 484.20,118.82 484.70,118.80 485.20,118.77 485.70,118.75 486.20,118.72 486.70,118.70 487.20,118.67 487.70,118.64 488.20,118.61 488.70,118.59 489.20,118.56 489.70,118.53 490.20,118.49 490.70,118.46 491.20,118.43 491.70,118.40 492.20,118.36 492.70,118.33 493.20,118.29 493.70,118.26 494.20,118.22 494.70,118.18 495.20,118.14 495.70,118.11 496.20,118.07 496.70,118.03 497.20,117.99 497.70,117.95 498.20,117.91 498.70,117.87 499.20,117.83 499.70,117.79 500.20,117.74 500.70,117.70 501.20,117.66 501.70,117.62 502.20,117.57 502.70,117.53 503.20,117.49 503.70,117.44 504.20,117.40 504.70,117.36 505.20,117.31 505.70,117.27 506.20,117.22 506.70,117.18 507.20,117.14 507.70,117.09 508.20,117.05 508.70,117.00 509.20,116.96 509.70,116.91 510.20,116.87 510.70,116.82 511.20,116.78 511.70,116.73 512.20,116.69 512.70,116.65 513.20,116.60 513.70,116.56 514.20,116.52 514.70,116.47 515.20,116.43 515.70,116.39 516.20,116.34 516.70,116.30 517.20,116.26 517.70,116.22 518.20,116.18 518.70,116.14 519.20,116.10 519.70,116.06 520.20,116.02 520.70,115.98 521.20,115.94 521.70,115.90 522.20,115.86 522.70,115.83 523.20,115.79 523.70,115.75 524.20,115.72 524.70,115.68 525.20,115.65 525.70,115.61 526.20,115.58 526.70,115.55 527.20,115.52 527.70,115.49 528.20,115.46 528.70,115.43 529.20,115.40 529.70,115.37 530.20,115.34 530.70,115.32 531.20,115.29 531.70,115.27 532.20,115.24 532.70,115.22 533.20,115.20 533.30,115.19" fill="none" stroke="#dd7a35" stroke-width="1.1"/>
<line x1="357.40" y1="119.30" x2="543.80" y2="119.30" stroke="#333" stroke-width="1.0" stroke-dasharray="2.0,1.64"/>
<path d="M357.4,142.5 L357.4,12.5 L544.8,12.5 L544.8,142.5 Z" fill="none" stroke="#bdbdbd" stroke-width="1.1"/>
<line x1="355.80" y1="136.45" x2="357.40" y2="136.45" stroke="#555" stroke-width="0.7"/>
<text x="355.00" y="138.65" text-anchor="end" font-family="'Liberation Serif', serif" font-size="6.6" fill="#3a3a3a" stroke="#3a3a3a" stroke-width="0.1">0</text>
<line x1="355.80" y1="102.45" x2="357.40" y2="102.45" stroke="#555" stroke-width="0.7"/>
<text x="355.00" y="104.65" text-anchor="end" font-family="'Liberation Serif', serif" font-size="6.6" fill="#3a3a3a" stroke="#3a3a3a" stroke-width="0.1">2</text>
<line x1="355.80" y1="68.45" x2="357.40" y2="68.45" stroke="#555" stroke-width="0.7"/>
<text x="355.00" y="70.65" text-anchor="end" font-family="'Liberation Serif', serif" font-size="6.6" fill="#3a3a3a" stroke="#3a3a3a" stroke-width="0.1">4</text>
<line x1="355.80" y1="34.45" x2="357.40" y2="34.45" stroke="#555" stroke-width="0.7"/>
<text x="355.00" y="36.65" text-anchor="end" font-family="'Liberation Serif', serif" font-size="6.6" fill="#3a3a3a" stroke="#3a3a3a" stroke-width="0.1">6</text>
<line x1="544.80" y1="142.50" x2="546.40" y2="142.50" stroke="#555" stroke-width="0.7"/>
<text x="547.10" y="144.70" font-family="'Liberation Serif', serif" font-size="6.6" fill="#3a3a3a" stroke="#3a3a3a" stroke-width="0.1">0.0</text>
<line x1="544.80" y1="99.17" x2="546.40" y2="99.17" stroke="#555" stroke-width="0.7"/>
<text x="547.10" y="101.37" font-family="'Liberation Serif', serif" font-size="6.6" fill="#3a3a3a" stroke="#3a3a3a" stroke-width="0.1">0.5</text>
<line x1="544.80" y1="55.83" x2="546.40" y2="55.83" stroke="#555" stroke-width="0.7"/>
<text x="547.10" y="58.03" font-family="'Liberation Serif', serif" font-size="6.6" fill="#3a3a3a" stroke="#3a3a3a" stroke-width="0.1">1.0</text>
<line x1="544.80" y1="12.50" x2="546.40" y2="12.50" stroke="#555" stroke-width="0.7"/>
<text x="547.10" y="14.70" font-family="'Liberation Serif', serif" font-size="6.6" fill="#3a3a3a" stroke="#3a3a3a" stroke-width="0.1">1.5</text>
<line x1="366.46" y1="142.50" x2="366.46" y2="144.10" stroke="#555" stroke-width="0.7"/>
<text x="366.46" y="149.30" text-anchor="middle" font-family="'Liberation Serif', serif" font-size="6.6" fill="#3a3a3a" stroke="#3a3a3a" stroke-width="0.1">-2</text>
<line x1="413.98" y1="142.50" x2="413.98" y2="144.10" stroke="#555" stroke-width="0.7"/>
<text x="413.98" y="149.30" text-anchor="middle" font-family="'Liberation Serif', serif" font-size="6.6" fill="#3a3a3a" stroke="#3a3a3a" stroke-width="0.1">-1</text>
<line x1="461.50" y1="142.50" x2="461.50" y2="144.10" stroke="#555" stroke-width="0.7"/>
<text x="461.50" y="149.30" text-anchor="middle" font-family="'Liberation Serif', serif" font-size="6.6" fill="#3a3a3a" stroke="#3a3a3a" stroke-width="0.1">0</text>
<line x1="509.02" y1="142.50" x2="509.02" y2="144.10" stroke="#555" stroke-width="0.7"/>
<text x="509.02" y="149.30" text-anchor="middle" font-family="'Liberation Serif', serif" font-size="6.6" fill="#3a3a3a" stroke="#3a3a3a" stroke-width="0.1">1</text>
<text x="451.10" y="155.30" text-anchor="middle" font-family="'Liberation Serif', serif" font-size="4.3" fill="#111" stroke="#111" stroke-width="0.15">TTR Levels (NPX)</text>
<text transform="translate(349.80,76.50) rotate(-90)" text-anchor="middle" font-family="'Liberation Serif', serif" font-size="4.4" fill="#111" stroke="#111" stroke-width="0.15">Hazard ratio (95% CI)</text>
<text transform="translate(557.40,77.50) rotate(90)" text-anchor="middle" font-family="'Liberation Serif', serif" font-size="4.3" fill="#111" stroke="#111" stroke-width="0.15">Fraction of population (density)</text>
<text x="355.50" y="5.00" font-family="'Liberation Sans', sans-serif" font-weight="bold" font-size="5.3" fill="#3a2f2f" stroke="#3a2f2f" stroke-width="0.15">B. Supraventricular arrhythmias</text>
<text x="18.90" y="204.50" font-family="'Liberation Serif', serif" font-size="4.45" fill="#111" stroke="#111" stroke-width="0.15">P for overall = 0.005</text>
<text x="18.90" y="209.70" font-family="'Liberation Serif', serif" font-size="4.45" fill="#111" stroke="#111" stroke-width="0.15">P for nonlinear = 0.006</text>
<polygon points="20.90,202.47 21.40,203.77 21.90,205.05 22.40,206.33 22.90,207.59 23.40,208.84 23.90,210.09 24.40,211.32 24.90,212.54 25.40,213.75 25.90,214.95 26.40,216.14 26.90,217.32 27.40,218.48 27.90,219.64 28.40,220.79 28.90,221.93 29.40,223.06 29.90,224.18 30.40,225.29 30.90,226.38 31.40,227.47 31.90,228.55 32.40,229.62 32.90,230.68 33.40,231.73 33.90,232.78 34.40,233.81 34.90,234.83 35.40,235.84 35.90,236.85 36.40,237.84 36.90,238.83 37.40,239.81 37.90,240.77 38.40,241.73 38.90,242.68 39.40,243.63 39.90,244.56 40.40,245.48 40.90,246.40 41.40,247.31 41.90,248.21 42.40,249.10 42.90,249.98 43.40,250.85 43.90,251.71 44.40,252.57 44.90,253.42 45.40,254.25 45.90,255.08 46.40,255.90 46.90,256.70 47.40,257.50 47.90,258.29 48.40,259.07 48.90,259.83 49.40,260.59 49.90,261.34 50.40,262.07 50.90,262.80 51.40,263.51 51.90,264.21 52.40,264.91 52.90,265.59 53.40,266.26 53.90,266.91 54.40,267.56 54.90,268.19 55.40,268.81 55.90,269.42 56.40,270.02 56.90,270.61 57.40,271.18 57.90,271.75 58.40,272.30 58.90,272.85 59.40,273.38 59.90,273.91 60.40,274.43 60.90,274.94 61.40,275.44 61.90,275.93 62.40,276.42 62.90,276.90 63.40,277.37 63.90,277.83 64.40,278.29 64.90,278.74 65.40,279.19 65.90,279.63 66.40,280.07 66.90,280.50 67.40,280.93 67.90,281.35 68.40,281.77 68.90,282.19 69.40,282.60 69.90,283.00 70.40,283.41 70.90,283.81 71.40,284.21 71.90,284.60 72.40,285.00 72.90,285.39 73.40,285.78 73.90,286.16 74.40,286.55 74.90,286.94 75.40,287.32 75.90,287.70 76.40,288.08 76.90,288.46 77.40,288.84 77.90,289.22 78.40,289.59 78.90,289.96 79.40,290.33 79.90,290.69 80.40,291.05 80.90,291.41 81.40,291.76 81.90,292.11 82.40,292.46 82.90,292.80 83.40,293.13 83.90,293.46 84.40,293.79 84.90,294.10 85.40,294.42 85.90,294.72 86.40,295.03 86.90,295.32 87.40,295.61 87.90,295.89 88.40,296.17 88.90,296.44 89.40,296.71 89.90,296.97 90.40,297.22 90.90,297.47 91.40,297.71 91.90,297.95 92.40,298.18 92.90,298.40 93.40,298.62 93.90,298.83 94.40,299.04 94.90,299.24 95.40,299.44 95.90,299.63 96.40,299.82 96.90,299.99 97.40,300.17 97.90,300.34 98.40,300.50 98.90,300.66 99.40,300.81 99.90,300.95 100.40,301.09 100.90,301.23 101.40,301.36 101.90,301.48 102.40,301.60 102.90,301.71 103.40,301.82 103.90,301.92 104.40,302.01 104.90,302.10 105.40,302.19 105.90,302.27 106.40,302.34 106.90,302.41 107.40,302.48 107.90,302.54 108.40,302.59 108.90,302.64 109.40,302.68 109.90,302.72 110.40,302.75 110.90,302.78 111.40,302.80 111.90,302.81 112.40,302.82 112.90,302.83 113.40,302.83 113.90,302.83 114.40,302.82 114.90,302.80 115.40,302.78 115.90,302.76 116.40,302.73 116.90,302.69 117.40,302.65 117.90,302.61 118.40,302.56 118.90,302.50 119.40,302.44 119.90,302.38 120.40,302.31 120.90,302.23 121.40,302.15 121.90,302.07 122.40,301.98 122.90,301.88 123.40,301.78 123.90,301.68 124.40,301.57 124.90,301.45 125.40,301.33 125.90,301.21 126.40,301.08 126.90,300.95 127.40,300.81 127.90,300.67 128.40,300.52 128.90,300.37 129.40,300.21 129.90,300.05 130.40,299.88 130.90,299.71 131.40,299.53 131.90,299.35 132.40,299.17 132.90,298.98 133.40,298.78 133.90,298.58 134.40,298.38 134.90,298.17 135.40,297.96 135.90,297.74 136.40,297.52 136.90,297.30 137.40,297.07 137.90,296.83 138.40,296.59 138.90,296.35 139.40,296.10 139.90,295.85 140.40,295.59 140.90,295.33 141.40,295.06 141.90,294.79 142.40,294.52 142.90,294.24 143.40,293.96 143.90,293.67 144.40,293.38 144.90,293.08 145.40,292.78 145.90,292.48 146.40,292.17 146.90,291.85 147.40,291.54 147.90,291.22 148.40,290.89 148.90,290.56 149.40,290.23 149.90,289.89 150.40,289.55 150.90,289.20 151.40,288.85 151.90,288.50 152.40,288.14 152.90,287.78 153.40,287.41 153.90,287.04 154.40,286.67 154.90,286.29 155.40,285.91 155.90,285.52 156.40,285.13 156.90,284.74 157.40,284.34 157.90,283.94 158.40,283.53 158.90,283.12 159.40,282.71 159.90,282.29 160.40,281.87 160.90,281.45 161.40,281.02 161.90,280.59 162.40,280.15 162.90,279.71 163.40,279.27 163.90,278.82 164.40,278.37 164.90,277.92 165.40,277.46 165.90,277.00 166.40,276.53 166.90,276.06 167.40,275.59 167.90,275.12 168.40,274.64 168.90,274.15 169.40,273.67 169.90,273.18 170.40,272.68 170.90,272.19 171.40,271.68 171.90,271.18 172.40,270.67 172.90,270.16 173.40,269.65 173.90,269.13 174.40,268.61 174.90,268.08 175.40,267.55 175.90,267.02 176.40,266.49 176.90,265.95 177.40,265.41 177.90,264.86 178.40,264.32 178.90,263.76 179.40,263.21 179.90,262.65 180.40,262.09 180.90,261.53 181.40,260.96 181.90,260.39 182.40,259.81 182.90,259.24 183.40,258.66 183.90,258.07 184.40,257.49 184.90,256.90 185.40,256.31 185.90,255.71 186.20,255.35 186.20,304.29 185.90,304.28 185.40,304.27 184.90,304.25 184.40,304.24 183.90,304.23 183.40,304.21 182.90,304.20 182.40,304.18 181.90,304.17 181.40,304.16 180.90,304.14 180.40,304.13 179.90,304.11 179.40,304.10 178.90,304.08 178.40,304.07 177.90,304.06 177.40,304.04 176.90,304.03 176.40,304.01 175.90,304.00 175.40,303.98 174.90,303.97 174.40,303.95 173.90,303.93 173.40,303.92 172.90,303.90 172.40,303.89 171.90,303.87 171.40,303.86 170.90,303.84 170.40,303.82 169.90,303.81 169.40,303.79 168.90,303.78 168.40,303.76 167.90,303.74 167.40,303.73 166.90,303.71 166.40,303.69 165.90,303.68 165.40,303.66 164.90,303.64 164.40,303.63 163.90,303.61 163.40,303.59 162.90,303.57 162.40,303.56 161.90,303.54 161.40,303.52 160.90,303.51 160.40,303.49 159.90,303.47 159.40,303.45 158.90,303.43 158.40,303.42 157.90,303.40 157.40,303.38 156.90,303.36 156.40,303.34 155.90,303.33 155.40,303.31 154.90,303.29 154.40,303.27 153.90,303.25 153.40,303.23 152.90,303.22 152.40,303.20 151.90,303.18 151.40,303.16 150.90,303.14 150.40,303.12 149.90,303.10 149.40,303.08 148.90,303.06 148.40,303.05 147.90,303.03 147.40,303.01 146.90,302.99 146.40,302.97 145.90,302.95 145.40,302.93 144.90,302.91 144.40,302.89 143.90,302.87 143.40,302.85 142.90,302.83 142.40,302.81 141.90,302.79 141.40,302.77 140.90,302.75 140.40,302.73 139.90,302.71 139.40,302.69 138.90,302.67 138.40,302.65 137.90,302.63 137.40,302.61 136.90,302.59 136.40,302.57 135.90,302.55 135.40,302.53 134.90,302.51 134.40,302.48 133.90,302.46 133.40,302.44 132.90,302.42 132.40,302.40 131.90,302.38 131.40,302.36 130.90,302.34 130.40,302.32 129.90,302.30 129.40,302.27 128.90,302.25 128.40,302.23 127.90,302.21 127.40,302.19 126.90,302.17 126.40,302.15 125.90,302.12 125.40,302.10 124.90,302.08 124.40,302.06 123.90,302.04 123.40,302.02 122.90,301.99 122.40,301.97 121.90,301.95 121.40,301.93 120.90,301.91 120.40,301.88 119.90,301.86 119.40,301.84 118.90,301.82 118.40,301.80 117.90,301.77 117.40,301.75 116.90,301.73 116.40,301.71 115.90,301.69 115.40,301.66 114.90,301.64 114.40,301.62 113.90,301.60 113.40,301.57 112.90,301.55 112.40,301.53 111.90,301.51 111.40,301.48 110.90,301.46 110.40,301.44 109.90,301.42 109.40,301.39 108.90,301.37 108.40,301.35 107.90,301.32 107.40,301.30 106.90,301.28 106.40,301.26 105.90,301.23 105.40,301.21 104.90,301.19 104.40,301.16 103.90,301.14 103.40,301.12 102.90,301.10 102.40,301.07 101.90,301.05 101.40,301.03 100.90,301.00 100.40,300.98 99.90,300.96 99.40,300.93 98.90,300.91 98.40,300.89 97.90,300.86 97.40,300.84 96.90,300.82 96.40,300.80 95.90,300.77 95.40,300.75 94.90,300.73 94.40,300.70 93.90,300.68 93.40,300.66 92.90,300.63 92.40,300.61 91.90,300.59 91.40,300.56 90.90,300.54 90.40,300.52 89.90,300.49 89.40,300.47 88.90,300.45 88.40,300.42 87.90,300.40 87.40,300.38 86.90,300.35 86.40,300.33 85.90,300.31 85.40,300.28 84.90,300.26 84.40,300.24 83.90,300.21 83.40,300.19 82.90,300.16 82.40,300.14 81.90,300.12 81.40,300.09 80.90,300.07 80.40,300.05 79.90,300.02 79.40,300.00 78.90,299.98 78.40,299.95 77.90,299.93 77.40,299.91 76.90,299.88 76.40,299.86 75.90,299.84 75.40,299.81 74.90,299.79 74.40,299.77 73.90,299.74 73.40,299.72 72.90,299.70 72.40,299.67 71.90,299.65 71.40,299.63 70.90,299.60 70.40,299.58 69.90,299.56 69.40,299.53 68.90,299.51 68.40,299.49 67.90,299.46 67.40,299.44 66.90,299.42 66.40,299.39 65.90,299.37 65.40,299.35 64.90,299.32 64.40,299.30 63.90,299.28 63.40,299.25 62.90,299.23 62.40,299.21 61.90,299.19 61.40,299.16 60.90,299.14 60.40,299.12 59.90,299.09 59.40,299.07 58.90,299.05 58.40,299.02 57.90,299.00 57.40,298.98 56.90,298.96 56.40,298.93 55.90,298.91 55.40,298.89 54.90,298.86 54.40,298.84 53.90,298.82 53.40,298.80 52.90,298.77 52.40,298.75 51.90,298.73 51.40,298.70 50.90,298.68 50.40,298.66 49.90,298.64 49.40,298.61 48.90,298.59 48.40,298.57 47.90,298.55 47.40,298.52 46.90,298.50 46.40,298.48 45.90,298.46 45.40,298.44 44.90,298.41 44.40,298.39 43.90,298.37 43.40,298.35 42.90,298.32 42.40,298.30 41.90,298.28 41.40,298.26 40.90,298.24 40.40,298.21 39.90,298.19 39.40,298.17 38.90,298.15 38.40,298.13 37.90,298.11 37.40,298.08 36.90,298.06 36.40,298.04 35.90,298.02 35.40,298.00 34.90,297.98 34.40,297.95 33.90,297.93 33.40,297.91 32.90,297.89 32.40,297.87 31.90,297.85 31.40,297.83 30.90,297.81 30.40,297.79 29.90,297.76 29.40,297.74 28.90,297.72 28.40,297.70 27.90,297.68 27.40,297.66 26.90,297.64 26.40,297.62 25.90,297.60 25.40,297.58 24.90,297.56 24.40,297.54 23.90,297.52 23.40,297.50 22.90,297.48 22.40,297.45 21.90,297.43 21.40,297.41 20.90,297.39" fill="#f1cfb4" stroke="none"/>
<rect x="46.44" y="319.32" width="3.52" height="0.08" fill="#a9d8f4" stroke="#404448" stroke-width="0.75"/>
<rect x="49.96" y="319.30" width="3.52" height="0.10" fill="#a9d8f4" stroke="#404448" stroke-width="0.75"/>
<rect x="53.48" y="319.25" width="3.52" height="0.15" fill="#a9d8f4" stroke="#404448" stroke-width="0.75"/>
<rect x="57.00" y="319.20" width="3.52" height="0.20" fill="#a9d8f4" stroke="#404448" stroke-width="0.75"/>
<rect x="60.52" y="319.10" width="3.52" height="0.30" fill="#a9d8f4" stroke="#404448" stroke-width="0.75"/>
<rect x="64.04" y="318.99" width="3.52" height="0.41" fill="#a9d8f4" stroke="#404448" stroke-width="0.75"/>
<rect x="67.56" y="318.39" width="3.52" height="1.01" fill="#a9d8f4" stroke="#404448" stroke-width="0.75"/>
<rect x="71.08" y="317.37" width="3.52" height="2.03" fill="#a9d8f4" stroke="#404448" stroke-width="0.75"/>
<rect x="74.60" y="316.16" width="3.52" height="3.24" fill="#a9d8f4" stroke="#404448" stroke-width="0.75"/>
<rect x="78.12" y="314.13" width="3.52" height="5.27" fill="#a9d8f4" stroke="#404448" stroke-width="0.75"/>
<rect x="81.64" y="309.97" width="3.52" height="9.43" fill="#a9d8f4" stroke="#404448" stroke-width="0.75"/>
<rect x="85.16" y="305.41" width="3.52" height="13.99" fill="#a9d8f4" stroke="#404448" stroke-width="0.75"/>
<rect x="88.68" y="298.61" width="3.52" height="20.79" fill="#a9d8f4" stroke="#404448" stroke-width="0.75"/>
<rect x="92.20" y="285.13" width="3.52" height="34.27" fill="#a9d8f4" stroke="#404448" stroke-width="0.75"/>
<rect x="95.72" y="274.48" width="3.52" height="44.92" fill="#a9d8f4" stroke="#404448" stroke-width="0.75"/>
<rect x="99.24" y="257.55" width="3.52" height="61.85" fill="#a9d8f4" stroke="#404448" stroke-width="0.75"/>
<rect x="102.76" y="243.05" width="3.52" height="76.35" fill="#a9d8f4" stroke="#404448" stroke-width="0.75"/>
<rect x="106.28" y="234.53" width="3.52" height="84.87" fill="#a9d8f4" stroke="#404448" stroke-width="0.75"/>
<rect x="109.80" y="218.00" width="3.52" height="101.40" fill="#a9d8f4" stroke="#404448" stroke-width="0.75"/>
<rect x="113.32" y="229.97" width="3.52" height="89.43" fill="#a9d8f4" stroke="#404448" stroke-width="0.75"/>
<rect x="116.84" y="241.32" width="3.52" height="78.08" fill="#a9d8f4" stroke="#404448" stroke-width="0.75"/>
<rect x="120.36" y="253.29" width="3.52" height="66.11" fill="#a9d8f4" stroke="#404448" stroke-width="0.75"/>
<rect x="123.88" y="270.53" width="3.52" height="48.87" fill="#a9d8f4" stroke="#404448" stroke-width="0.75"/>
<rect x="127.40" y="285.13" width="3.52" height="34.27" fill="#a9d8f4" stroke="#404448" stroke-width="0.75"/>
<rect x="130.92" y="298.31" width="3.52" height="21.09" fill="#a9d8f4" stroke="#404448" stroke-width="0.75"/>
<rect x="134.44" y="306.42" width="3.52" height="12.98" fill="#a9d8f4" stroke="#404448" stroke-width="0.75"/>
<rect x="137.96" y="313.11" width="3.52" height="6.29" fill="#a9d8f4" stroke="#404448" stroke-width="0.75"/>
<rect x="141.48" y="316.56" width="3.52" height="2.84" fill="#a9d8f4" stroke="#404448" stroke-width="0.75"/>
<rect x="145.00" y="317.68" width="3.52" height="1.72" fill="#a9d8f4" stroke="#404448" stroke-width="0.75"/>
<rect x="148.52" y="318.59" width="3.52" height="0.81" fill="#a9d8f4" stroke="#404448" stroke-width="0.75"/>
<rect x="152.04" y="318.99" width="3.52" height="0.41" fill="#a9d8f4" stroke="#404448" stroke-width="0.75"/>
<rect x="155.56" y="319.20" width="3.52" height="0.20" fill="#a9d8f4" stroke="#404448" stroke-width="0.75"/>
<rect x="159.08" y="319.28" width="3.52" height="0.12" fill="#a9d8f4" stroke="#404448" stroke-width="0.75"/>
<rect x="162.60" y="319.32" width="3.52" height="0.08" fill="#a9d8f4" stroke="#404448" stroke-width="0.75"/>
<line x1="19.46" y1="319.40" x2="188.80" y2="319.40" stroke="#4a4a4a" stroke-width="1.2"/>
<polyline points="20.90,268.51 21.40,268.81 21.90,269.11 22.40,269.41 22.90,269.71 23.40,270.01 23.90,270.31 24.40,270.61 24.90,270.91 25.40,271.20 25.90,271.50 26.40,271.79 26.90,272.09 27.40,272.38 27.90,272.67 28.40,272.96 28.90,273.25 29.40,273.54 29.90,273.83 30.40,274.12 30.90,274.40 31.40,274.69 31.90,274.97 32.40,275.26 32.90,275.54 33.40,275.82 33.90,276.10 34.40,276.38 34.90,276.66 35.40,276.94 35.90,277.21 36.40,277.49 36.90,277.76 37.40,278.04 37.90,278.31 38.40,278.58 38.90,278.85 39.40,279.12 39.90,279.39 40.40,279.65 40.90,279.92 41.40,280.18 41.90,280.45 42.40,280.71 42.90,280.97 43.40,281.23 43.90,281.49 44.40,281.75 44.90,282.00 45.40,282.26 45.90,282.51 46.40,282.77 46.90,283.02 47.40,283.27 47.90,283.52 48.40,283.77 48.90,284.01 49.40,284.26 49.90,284.50 50.40,284.75 50.90,284.99 51.40,285.23 51.90,285.47 52.40,285.70 52.90,285.94 53.40,286.18 53.90,286.41 54.40,286.64 54.90,286.87 55.40,287.10 55.90,287.33 56.40,287.56 56.90,287.78 57.40,288.00 57.90,288.23 58.40,288.45 58.90,288.67 59.40,288.89 59.90,289.10 60.40,289.32 60.90,289.53 61.40,289.74 61.90,289.95 62.40,290.16 62.90,290.37 63.40,290.57 63.90,290.78 64.40,290.98 64.90,291.18 65.40,291.38 65.90,291.58 66.40,291.78 66.90,291.97 67.40,292.17 67.90,292.36 68.40,292.55 68.90,292.74 69.40,292.92 69.90,293.11 70.40,293.29 70.90,293.47 71.40,293.65 71.90,293.83 72.40,294.01 72.90,294.18 73.40,294.35 73.90,294.53 74.40,294.70 74.90,294.86 75.40,295.03 75.90,295.19 76.40,295.36 76.90,295.52 77.40,295.68 77.90,295.83 78.40,295.99 78.90,296.14 79.40,296.29 79.90,296.44 80.40,296.59 80.90,296.74 81.40,296.88 81.90,297.02 82.40,297.17 82.90,297.30 83.40,297.44 83.90,297.57 84.40,297.71 84.90,297.84 85.40,297.97 85.90,298.09 86.40,298.22 86.90,298.34 87.40,298.46 87.90,298.58 88.40,298.70 88.90,298.81 89.40,298.93 89.90,299.04 90.40,299.15 90.90,299.25 91.40,299.36 91.90,299.46 92.40,299.56 92.90,299.66 93.40,299.75 93.90,299.85 94.40,299.94 94.90,300.03 95.40,300.12 95.90,300.20 96.40,300.29 96.90,300.37 97.40,300.45 97.90,300.53 98.40,300.60 98.90,300.67 99.40,300.74 99.90,300.81 100.40,300.88 100.90,300.94 101.40,301.00 101.90,301.06 102.40,301.12 102.90,301.17 103.40,301.22 103.90,301.27 104.40,301.32 104.90,301.37 105.40,301.41 105.90,301.45 106.40,301.49 106.90,301.52 107.40,301.56 107.90,301.59 108.40,301.62 108.90,301.64 109.40,301.67 109.90,301.69 110.40,301.71 110.90,301.73 111.40,301.74 111.90,301.75 112.40,301.76 112.90,301.77 113.40,301.77 113.90,301.77 114.40,301.77 114.90,301.77 115.40,301.77 115.90,301.76 116.40,301.75 116.90,301.74 117.40,301.73 117.90,301.71 118.40,301.69 118.90,301.67 119.40,301.65 119.90,301.62 120.40,301.60 120.90,301.57 121.40,301.54 121.90,301.51 122.40,301.47 122.90,301.43 123.40,301.40 123.90,301.36 124.40,301.31 124.90,301.27 125.40,301.22 125.90,301.17 126.40,301.12 126.90,301.07 127.40,301.02 127.90,300.96 128.40,300.91 128.90,300.85 129.40,300.79 129.90,300.72 130.40,300.66 130.90,300.59 131.40,300.53 131.90,300.46 132.40,300.39 132.90,300.31 133.40,300.24 133.90,300.17 134.40,300.09 134.90,300.01 135.40,299.93 135.90,299.85 136.40,299.77 136.90,299.68 137.40,299.60 137.90,299.51 138.40,299.42 138.90,299.33 139.40,299.24 139.90,299.15 140.40,299.06 140.90,298.96 141.40,298.87 141.90,298.77 142.40,298.67 142.90,298.57 143.40,298.47 143.90,298.37 144.40,298.27 144.90,298.16 145.40,298.06 145.90,297.95 146.40,297.85 146.90,297.74 147.40,297.63 147.90,297.52 148.40,297.41 148.90,297.30 149.40,297.19 149.90,297.07 150.40,296.96 150.90,296.84 151.40,296.73 151.90,296.61 152.40,296.49 152.90,296.37 153.40,296.26 153.90,296.14 154.40,296.02 154.90,295.90 155.40,295.77 155.90,295.65 156.40,295.53 156.90,295.40 157.40,295.28 157.90,295.16 158.40,295.03 158.90,294.91 159.40,294.78 159.90,294.65 160.40,294.53 160.90,294.40 161.40,294.27 161.90,294.14 162.40,294.01 162.90,293.89 163.40,293.76 163.90,293.63 164.40,293.50 164.90,293.37 165.40,293.24 165.90,293.11 166.40,292.98 166.90,292.85 167.40,292.71 167.90,292.58 168.40,292.45 168.90,292.32 169.40,292.19 169.90,292.06 170.40,291.93 170.90,291.80 171.40,291.66 171.90,291.53 172.40,291.40 172.90,291.27 173.40,291.14 173.90,291.01 174.40,290.88 174.90,290.75 175.40,290.62 175.90,290.49 176.40,290.36 176.90,290.23 177.40,290.10 177.90,289.97 178.40,289.84 178.90,289.71 179.40,289.58 179.90,289.45 180.40,289.33 180.90,289.20 181.40,289.07 181.90,288.95 182.40,288.82 182.90,288.69 183.40,288.57 183.90,288.44 184.40,288.32 184.90,288.20 185.40,288.08 185.90,287.95 186.20,287.88" fill="none" stroke="#dd7a35" stroke-width="1.1"/>
<line x1="11.40" y1="302.40" x2="197.00" y2="302.40" stroke="#333" stroke-width="1.0" stroke-dasharray="2.0,1.64"/>
<path d="M11.4,325.5 L11.4,196.5 L198.0,196.5 L198.0,325.5 Z" fill="none" stroke="#bdbdbd" stroke-width="1.1"/>
<line x1="9.80" y1="319.40" x2="11.40" y2="319.40" stroke="#555" stroke-width="0.7"/>
<text x="9.00" y="321.60" text-anchor="end" font-family="'Liberation Serif', serif" font-size="6.6" fill="#3a3a3a" stroke="#3a3a3a" stroke-width="0.1">0</text>
<line x1="9.80" y1="285.74" x2="11.40" y2="285.74" stroke="#555" stroke-width="0.7"/>
<text x="9.00" y="287.94" text-anchor="end" font-family="'Liberation Serif', serif" font-size="6.6" fill="#3a3a3a" stroke="#3a3a3a" stroke-width="0.1">2</text>
<line x1="9.80" y1="252.08" x2="11.40" y2="252.08" stroke="#555" stroke-width="0.7"/>
<text x="9.00" y="254.28" text-anchor="end" font-family="'Liberation Serif', serif" font-size="6.6" fill="#3a3a3a" stroke="#3a3a3a" stroke-width="0.1">4</text>
<line x1="9.80" y1="218.42" x2="11.40" y2="218.42" stroke="#555" stroke-width="0.7"/>
<text x="9.00" y="220.62" text-anchor="end" font-family="'Liberation Serif', serif" font-size="6.6" fill="#3a3a3a" stroke="#3a3a3a" stroke-width="0.1">6</text>
<line x1="198.00" y1="325.50" x2="199.60" y2="325.50" stroke="#555" stroke-width="0.7"/>
<text x="200.30" y="327.70" font-family="'Liberation Serif', serif" font-size="6.6" fill="#3a3a3a" stroke="#3a3a3a" stroke-width="0.1">0.0</text>
<line x1="198.00" y1="282.50" x2="199.60" y2="282.50" stroke="#555" stroke-width="0.7"/>
<text x="200.30" y="284.70" font-family="'Liberation Serif', serif" font-size="6.6" fill="#3a3a3a" stroke="#3a3a3a" stroke-width="0.1">0.5</text>
<line x1="198.00" y1="239.50" x2="199.60" y2="239.50" stroke="#555" stroke-width="0.7"/>
<text x="200.30" y="241.70" font-family="'Liberation Serif', serif" font-size="6.6" fill="#3a3a3a" stroke="#3a3a3a" stroke-width="0.1">1.0</text>
<line x1="198.00" y1="196.50" x2="199.60" y2="196.50" stroke="#555" stroke-width="0.7"/>
<text x="200.30" y="198.70" font-family="'Liberation Serif', serif" font-size="6.6" fill="#3a3a3a" stroke="#3a3a3a" stroke-width="0.1">1.5</text>
<line x1="19.46" y1="325.50" x2="19.46" y2="327.10" stroke="#555" stroke-width="0.7"/>
<text x="19.46" y="332.30" text-anchor="middle" font-family="'Liberation Serif', serif" font-size="6.6" fill="#3a3a3a" stroke="#3a3a3a" stroke-width="0.1">-2</text>
<line x1="65.43" y1="325.50" x2="65.43" y2="327.10" stroke="#555" stroke-width="0.7"/>
<text x="65.43" y="332.30" text-anchor="middle" font-family="'Liberation Serif', serif" font-size="6.6" fill="#3a3a3a" stroke="#3a3a3a" stroke-width="0.1">-1</text>
<line x1="111.40" y1="325.50" x2="111.40" y2="327.10" stroke="#555" stroke-width="0.7"/>
<text x="111.40" y="332.30" text-anchor="middle" font-family="'Liberation Serif', serif" font-size="6.6" fill="#3a3a3a" stroke="#3a3a3a" stroke-width="0.1">0</text>
<line x1="157.37" y1="325.50" x2="157.37" y2="327.10" stroke="#555" stroke-width="0.7"/>
<text x="157.37" y="332.30" text-anchor="middle" font-family="'Liberation Serif', serif" font-size="6.6" fill="#3a3a3a" stroke="#3a3a3a" stroke-width="0.1">1</text>
<text x="104.70" y="338.30" text-anchor="middle" font-family="'Liberation Serif', serif" font-size="4.3" fill="#111" stroke="#111" stroke-width="0.15">TTR Levels (NPX)</text>
<text transform="translate(3.80,260.00) rotate(-90)" text-anchor="middle" font-family="'Liberation Serif', serif" font-size="4.4" fill="#111" stroke="#111" stroke-width="0.15">Hazard ratio (95% CI)</text>
<text transform="translate(210.60,261.00) rotate(90)" text-anchor="middle" font-family="'Liberation Serif', serif" font-size="4.3" fill="#111" stroke="#111" stroke-width="0.15">Fraction of population (density)</text>
<text x="10.00" y="184.50" font-family="'Liberation Sans', sans-serif" font-weight="bold" font-size="5.3" fill="#3a2f2f" stroke="#3a2f2f" stroke-width="0.15">C. Bradyarrhythmias</text>
<text x="253.90" y="205.10" font-family="'Liberation Serif', serif" font-size="4.45" fill="#111" stroke="#111" stroke-width="0.15">P for overall = 0.043</text>
<text x="253.90" y="210.00" font-family="'Liberation Serif', serif" font-size="4.45" fill="#111" stroke="#111" stroke-width="0.15">P for nonlinear = 0.024</text>
<polygon points="254.90,203.95 255.40,205.16 255.90,206.37 256.40,207.58 256.90,208.77 257.40,209.95 257.90,211.13 258.40,212.29 258.90,213.45 259.40,214.60 259.90,215.74 260.40,216.87 260.90,217.99 261.40,219.11 261.90,220.21 262.40,221.31 262.90,222.40 263.40,223.48 263.90,224.55 264.40,225.62 264.90,226.67 265.40,227.72 265.90,228.76 266.40,229.79 266.90,230.81 267.40,231.82 267.90,232.83 268.40,233.83 268.90,234.82 269.40,235.80 269.90,236.77 270.40,237.74 270.90,238.69 271.40,239.64 271.90,240.58 272.40,241.51 272.90,242.44 273.40,243.35 273.90,244.26 274.40,245.16 274.90,246.06 275.40,246.94 275.90,247.82 276.40,248.69 276.90,249.55 277.40,250.40 277.90,251.25 278.40,252.09 278.90,252.92 279.40,253.74 279.90,254.56 280.40,255.37 280.90,256.17 281.40,256.96 281.90,257.74 282.40,258.52 282.90,259.29 283.40,260.05 283.90,260.81 284.40,261.56 284.90,262.30 285.40,263.03 285.90,263.76 286.40,264.47 286.90,265.18 287.40,265.89 287.90,266.59 288.40,267.27 288.90,267.96 289.40,268.63 289.90,269.30 290.40,269.96 290.90,270.61 291.40,271.26 291.90,271.90 292.40,272.53 292.90,273.16 293.40,273.78 293.90,274.39 294.40,274.99 294.90,275.59 295.40,276.18 295.90,276.77 296.40,277.34 296.90,277.91 297.40,278.48 297.90,279.04 298.40,279.59 298.90,280.13 299.40,280.67 299.90,281.20 300.40,281.72 300.90,282.24 301.40,282.75 301.90,283.25 302.40,283.75 302.90,284.24 303.40,284.73 303.90,285.20 304.40,285.68 304.90,286.14 305.40,286.60 305.90,287.05 306.40,287.50 306.90,287.94 307.40,288.37 307.90,288.80 308.40,289.22 308.90,289.64 309.40,290.05 309.90,290.45 310.40,290.85 310.90,291.24 311.40,291.62 311.90,292.00 312.40,292.37 312.90,292.74 313.40,293.10 313.90,293.45 314.40,293.80 314.90,294.14 315.40,294.48 315.90,294.81 316.40,295.14 316.90,295.46 317.40,295.77 317.90,296.08 318.40,296.38 318.90,296.68 319.40,296.97 319.90,297.25 320.40,297.53 320.90,297.81 321.40,298.08 321.90,298.34 322.40,298.60 322.90,298.85 323.40,299.09 323.90,299.34 324.40,299.57 324.90,299.80 325.40,300.03 325.90,300.25 326.40,300.46 326.90,300.67 327.40,300.87 327.90,301.07 328.40,301.26 328.90,301.45 329.40,301.63 329.90,301.81 330.40,301.98 330.90,302.15 331.40,302.31 331.90,302.47 332.40,302.62 332.90,302.76 333.40,302.90 333.90,303.04 334.40,303.17 334.90,303.30 335.40,303.42 335.90,303.53 336.40,303.64 336.90,303.75 337.40,303.85 337.90,303.95 338.40,304.04 338.90,304.12 339.40,304.20 339.90,304.28 340.40,304.35 340.90,304.42 341.40,304.48 341.90,304.54 342.40,304.59 342.90,304.64 343.40,304.68 343.90,304.72 344.40,304.75 344.90,304.78 345.40,304.81 345.90,304.82 346.40,304.84 346.90,304.85 347.40,304.86 347.90,304.86 348.40,304.85 348.90,304.85 349.40,304.83 349.90,304.82 350.40,304.80 350.90,304.77 351.40,304.74 351.90,304.70 352.40,304.67 352.90,304.62 353.40,304.57 353.90,304.52 354.40,304.47 354.90,304.41 355.40,304.34 355.90,304.27 356.40,304.20 356.90,304.12 357.40,304.04 357.90,303.95 358.40,303.86 358.90,303.77 359.40,303.67 359.90,303.57 360.40,303.46 360.90,303.35 361.40,303.23 361.90,303.12 362.40,302.99 362.90,302.87 363.40,302.73 363.90,302.60 364.40,302.46 364.90,302.32 365.40,302.17 365.90,302.02 366.40,301.87 366.90,301.71 367.40,301.55 367.90,301.38 368.40,301.21 368.90,301.04 369.40,300.86 369.90,300.68 370.40,300.49 370.90,300.31 371.40,300.11 371.90,299.92 372.40,299.72 372.90,299.52 373.40,299.31 373.90,299.10 374.40,298.88 374.90,298.67 375.40,298.45 375.90,298.22 376.40,297.99 376.90,297.76 377.40,297.53 377.90,297.29 378.40,297.05 378.90,296.80 379.40,296.55 379.90,296.30 380.40,296.05 380.90,295.79 381.40,295.53 381.90,295.26 382.40,294.99 382.90,294.72 383.40,294.45 383.90,294.17 384.40,293.89 384.90,293.60 385.40,293.31 385.90,293.02 386.40,292.73 386.90,292.43 387.40,292.13 387.90,291.83 388.40,291.52 388.90,291.21 389.40,290.90 389.90,290.59 390.40,290.27 390.90,289.95 391.40,289.62 391.90,289.29 392.40,288.96 392.90,288.63 393.40,288.30 393.90,287.96 394.40,287.62 394.90,287.27 395.40,286.92 395.90,286.57 396.40,286.22 396.90,285.87 397.40,285.51 397.90,285.15 398.40,284.78 398.90,284.42 399.40,284.05 399.90,283.68 400.40,283.30 400.90,282.93 401.40,282.55 401.90,282.17 402.40,281.78 402.90,281.39 403.40,281.01 403.90,280.61 404.40,280.22 404.90,279.82 405.40,279.42 405.90,279.02 406.40,278.62 406.90,278.21 407.40,277.80 407.90,277.39 408.40,276.98 408.90,276.56 409.40,276.15 409.90,275.73 410.40,275.30 410.90,274.88 411.40,274.45 411.90,274.02 412.40,273.59 412.90,273.16 413.40,272.73 413.90,272.29 414.40,271.85 414.90,271.41 415.40,270.96 415.90,270.52 416.40,270.07 416.90,269.62 417.40,269.17 417.90,268.72 418.40,268.26 418.90,267.80 419.40,267.34 419.90,266.88 420.40,266.42 420.90,265.95 421.20,265.67 421.20,309.79 420.90,309.76 420.40,309.70 419.90,309.65 419.40,309.59 418.90,309.54 418.40,309.49 417.90,309.43 417.40,309.38 416.90,309.32 416.40,309.27 415.90,309.22 415.40,309.17 414.90,309.11 414.40,309.06 413.90,309.01 413.40,308.96 412.90,308.91 412.40,308.86 411.90,308.81 411.40,308.76 410.90,308.71 410.40,308.66 409.90,308.61 409.40,308.56 408.90,308.51 408.40,308.47 407.90,308.42 407.40,308.37 406.90,308.32 406.40,308.28 405.90,308.23 405.40,308.19 404.90,308.14 404.40,308.09 403.90,308.05 403.40,308.00 402.90,307.96 402.40,307.91 401.90,307.87 401.40,307.83 400.90,307.78 400.40,307.74 399.90,307.70 399.40,307.65 398.90,307.61 398.40,307.57 397.90,307.53 397.40,307.49 396.90,307.45 396.40,307.40 395.90,307.36 395.40,307.32 394.90,307.28 394.40,307.24 393.90,307.20 393.40,307.16 392.90,307.13 392.40,307.09 391.90,307.05 391.40,307.01 390.90,306.97 390.40,306.93 389.90,306.90 389.40,306.86 388.90,306.82 388.40,306.78 387.90,306.75 387.40,306.71 386.90,306.68 386.40,306.64 385.90,306.60 385.40,306.57 384.90,306.53 384.40,306.50 383.90,306.46 383.40,306.43 382.90,306.40 382.40,306.36 381.90,306.33 381.40,306.30 380.90,306.26 380.40,306.23 379.90,306.20 379.40,306.16 378.90,306.13 378.40,306.10 377.90,306.07 377.40,306.04 376.90,306.01 376.40,305.97 375.90,305.94 375.40,305.91 374.90,305.88 374.40,305.85 373.90,305.82 373.40,305.79 372.90,305.76 372.40,305.73 371.90,305.70 371.40,305.68 370.90,305.65 370.40,305.62 369.90,305.59 369.40,305.56 368.90,305.53 368.40,305.51 367.90,305.48 367.40,305.45 366.90,305.42 366.40,305.40 365.90,305.37 365.40,305.34 364.90,305.32 364.40,305.29 363.90,305.27 363.40,305.24 362.90,305.21 362.40,305.19 361.90,305.16 361.40,305.14 360.90,305.11 360.40,305.09 359.90,305.06 359.40,305.04 358.90,305.02 358.40,304.99 357.90,304.97 357.40,304.94 356.90,304.92 356.40,304.90 355.90,304.87 355.40,304.85 354.90,304.83 354.40,304.81 353.90,304.78 353.40,304.76 352.90,304.74 352.40,304.72 351.90,304.69 351.40,304.67 350.90,304.65 350.40,304.63 349.90,304.61 349.40,304.59 348.90,304.57 348.40,304.55 347.90,304.53 347.40,304.51 346.90,304.48 346.40,304.46 345.90,304.44 345.40,304.42 344.90,304.40 344.40,304.39 343.90,304.37 343.40,304.35 342.90,304.33 342.40,304.31 341.90,304.29 341.40,304.27 340.90,304.25 340.40,304.23 339.90,304.21 339.40,304.20 338.90,304.18 338.40,304.16 337.90,304.14 337.40,304.12 336.90,304.11 336.40,304.09 335.90,304.07 335.40,304.05 334.90,304.04 334.40,304.02 333.90,304.00 333.40,303.98 332.90,303.97 332.40,303.95 331.90,303.93 331.40,303.92 330.90,303.90 330.40,303.89 329.90,303.87 329.40,303.85 328.90,303.84 328.40,303.82 327.90,303.81 327.40,303.79 326.90,303.77 326.40,303.76 325.90,303.74 325.40,303.73 324.90,303.71 324.40,303.70 323.90,303.68 323.40,303.67 322.90,303.65 322.40,303.64 321.90,303.62 321.40,303.61 320.90,303.59 320.40,303.58 319.90,303.56 319.40,303.55 318.90,303.53 318.40,303.52 317.90,303.51 317.40,303.49 316.90,303.48 316.40,303.46 315.90,303.45 315.40,303.44 314.90,303.42 314.40,303.41 313.90,303.39 313.40,303.38 312.90,303.37 312.40,303.35 311.90,303.34 311.40,303.33 310.90,303.31 310.40,303.30 309.90,303.29 309.40,303.27 308.90,303.26 308.40,303.25 307.90,303.23 307.40,303.22 306.90,303.21 306.40,303.19 305.90,303.18 305.40,303.17 304.90,303.15 304.40,303.14 303.90,303.13 303.40,303.12 302.90,303.10 302.40,303.09 301.90,303.08 301.40,303.06 300.90,303.05 300.40,303.04 299.90,303.03 299.40,303.01 298.90,303.00 298.40,302.99 297.90,302.97 297.40,302.96 296.90,302.95 296.40,302.94 295.90,302.92 295.40,302.91 294.90,302.90 294.40,302.89 293.90,302.87 293.40,302.86 292.90,302.85 292.40,302.84 291.90,302.82 291.40,302.81 290.90,302.80 290.40,302.79 289.90,302.77 289.40,302.76 288.90,302.75 288.40,302.74 287.90,302.72 287.40,302.71 286.90,302.70 286.40,302.68 285.90,302.67 285.40,302.66 284.90,302.65 284.40,302.63 283.90,302.62 283.40,302.61 282.90,302.60 282.40,302.58 281.90,302.57 281.40,302.56 280.90,302.54 280.40,302.53 279.90,302.52 279.40,302.50 278.90,302.49 278.40,302.48 277.90,302.47 277.40,302.45 276.90,302.44 276.40,302.43 275.90,302.41 275.40,302.40 274.90,302.39 274.40,302.37 273.90,302.36 273.40,302.35 272.90,302.33 272.40,302.32 271.90,302.30 271.40,302.29 270.90,302.28 270.40,302.26 269.90,302.25 269.40,302.23 268.90,302.22 268.40,302.21 267.90,302.19 267.40,302.18 266.90,302.16 266.40,302.15 265.90,302.13 265.40,302.12 264.90,302.11 264.40,302.09 263.90,302.08 263.40,302.06 262.90,302.05 262.40,302.03 261.90,302.02 261.40,302.00 260.90,301.99 260.40,301.97 259.90,301.96 259.40,301.94 258.90,301.92 258.40,301.91 257.90,301.89 257.40,301.88 256.90,301.86 256.40,301.84 255.90,301.83 255.40,301.81 254.90,301.80" fill="#f1cfb4" stroke="none"/>
<rect x="281.50" y="319.73" width="3.50" height="0.07" fill="#a9d8f4" stroke="#404448" stroke-width="0.75"/>
<rect x="285.00" y="319.71" width="3.50" height="0.09" fill="#a9d8f4" stroke="#404448" stroke-width="0.75"/>
<rect x="288.50" y="319.67" width="3.50" height="0.13" fill="#a9d8f4" stroke="#404448" stroke-width="0.75"/>
<rect x="292.00" y="319.62" width="3.50" height="0.18" fill="#a9d8f4" stroke="#404448" stroke-width="0.75"/>
<rect x="295.50" y="319.53" width="3.50" height="0.27" fill="#a9d8f4" stroke="#404448" stroke-width="0.75"/>
<rect x="299.00" y="319.44" width="3.50" height="0.36" fill="#a9d8f4" stroke="#404448" stroke-width="0.75"/>
<rect x="302.50" y="318.91" width="3.50" height="0.89" fill="#a9d8f4" stroke="#404448" stroke-width="0.75"/>
<rect x="306.00" y="318.02" width="3.50" height="1.78" fill="#a9d8f4" stroke="#404448" stroke-width="0.75"/>
<rect x="309.50" y="316.96" width="3.50" height="2.84" fill="#a9d8f4" stroke="#404448" stroke-width="0.75"/>
<rect x="313.00" y="315.18" width="3.50" height="4.62" fill="#a9d8f4" stroke="#404448" stroke-width="0.75"/>
<rect x="316.50" y="311.54" width="3.50" height="8.26" fill="#a9d8f4" stroke="#404448" stroke-width="0.75"/>
<rect x="320.00" y="307.55" width="3.50" height="12.25" fill="#a9d8f4" stroke="#404448" stroke-width="0.75"/>
<rect x="323.50" y="301.60" width="3.50" height="18.20" fill="#a9d8f4" stroke="#404448" stroke-width="0.75"/>
<rect x="327.00" y="289.79" width="3.50" height="30.01" fill="#a9d8f4" stroke="#404448" stroke-width="0.75"/>
<rect x="330.50" y="280.46" width="3.50" height="39.34" fill="#a9d8f4" stroke="#404448" stroke-width="0.75"/>
<rect x="334.00" y="265.63" width="3.50" height="54.17" fill="#a9d8f4" stroke="#404448" stroke-width="0.75"/>
<rect x="337.50" y="252.93" width="3.50" height="66.87" fill="#a9d8f4" stroke="#404448" stroke-width="0.75"/>
<rect x="341.00" y="245.47" width="3.50" height="74.33" fill="#a9d8f4" stroke="#404448" stroke-width="0.75"/>
<rect x="344.50" y="231.00" width="3.50" height="88.80" fill="#a9d8f4" stroke="#404448" stroke-width="0.75"/>
<rect x="348.00" y="241.48" width="3.50" height="78.32" fill="#a9d8f4" stroke="#404448" stroke-width="0.75"/>
<rect x="351.50" y="251.42" width="3.50" height="68.38" fill="#a9d8f4" stroke="#404448" stroke-width="0.75"/>
<rect x="355.00" y="261.90" width="3.50" height="57.90" fill="#a9d8f4" stroke="#404448" stroke-width="0.75"/>
<rect x="358.50" y="277.00" width="3.50" height="42.80" fill="#a9d8f4" stroke="#404448" stroke-width="0.75"/>
<rect x="362.00" y="289.79" width="3.50" height="30.01" fill="#a9d8f4" stroke="#404448" stroke-width="0.75"/>
<rect x="365.50" y="301.33" width="3.50" height="18.47" fill="#a9d8f4" stroke="#404448" stroke-width="0.75"/>
<rect x="369.00" y="308.43" width="3.50" height="11.37" fill="#a9d8f4" stroke="#404448" stroke-width="0.75"/>
<rect x="372.50" y="314.29" width="3.50" height="5.51" fill="#a9d8f4" stroke="#404448" stroke-width="0.75"/>
<rect x="376.00" y="317.31" width="3.50" height="2.49" fill="#a9d8f4" stroke="#404448" stroke-width="0.75"/>
<rect x="379.50" y="318.29" width="3.50" height="1.51" fill="#a9d8f4" stroke="#404448" stroke-width="0.75"/>
<rect x="383.00" y="319.09" width="3.50" height="0.71" fill="#a9d8f4" stroke="#404448" stroke-width="0.75"/>
<rect x="386.50" y="319.44" width="3.50" height="0.36" fill="#a9d8f4" stroke="#404448" stroke-width="0.75"/>
<rect x="390.00" y="319.62" width="3.50" height="0.18" fill="#a9d8f4" stroke="#404448" stroke-width="0.75"/>
<rect x="393.50" y="319.69" width="3.50" height="0.11" fill="#a9d8f4" stroke="#404448" stroke-width="0.75"/>
<rect x="397.00" y="319.73" width="3.50" height="0.07" fill="#a9d8f4" stroke="#404448" stroke-width="0.75"/>
<line x1="253.50" y1="319.80" x2="424.70" y2="319.80" stroke="#a8a8a8" stroke-width="1.5"/>
<polyline points="254.90,273.59 255.40,273.86 255.90,274.14 256.40,274.41 256.90,274.68 257.40,274.95 257.90,275.22 258.40,275.50 258.90,275.77 259.40,276.03 259.90,276.30 260.40,276.57 260.90,276.84 261.40,277.11 261.90,277.37 262.40,277.64 262.90,277.90 263.40,278.17 263.90,278.43 264.40,278.69 264.90,278.95 265.40,279.21 265.90,279.47 266.40,279.73 266.90,279.99 267.40,280.25 267.90,280.51 268.40,280.76 268.90,281.02 269.40,281.27 269.90,281.53 270.40,281.78 270.90,282.03 271.40,282.28 271.90,282.53 272.40,282.78 272.90,283.03 273.40,283.28 273.90,283.52 274.40,283.77 274.90,284.01 275.40,284.26 275.90,284.50 276.40,284.74 276.90,284.98 277.40,285.22 277.90,285.46 278.40,285.70 278.90,285.93 279.40,286.17 279.90,286.40 280.40,286.64 280.90,286.87 281.40,287.10 281.90,287.33 282.40,287.56 282.90,287.79 283.40,288.02 283.90,288.24 284.40,288.47 284.90,288.69 285.40,288.91 285.90,289.13 286.40,289.35 286.90,289.57 287.40,289.79 287.90,290.01 288.40,290.22 288.90,290.43 289.40,290.65 289.90,290.86 290.40,291.07 290.90,291.28 291.40,291.48 291.90,291.69 292.40,291.89 292.90,292.10 293.40,292.30 293.90,292.50 294.40,292.70 294.90,292.90 295.40,293.10 295.90,293.29 296.40,293.48 296.90,293.68 297.40,293.87 297.90,294.06 298.40,294.25 298.90,294.43 299.40,294.62 299.90,294.80 300.40,294.99 300.90,295.17 301.40,295.35 301.90,295.52 302.40,295.70 302.90,295.87 303.40,296.05 303.90,296.22 304.40,296.39 304.90,296.56 305.40,296.73 305.90,296.89 306.40,297.06 306.90,297.22 307.40,297.38 307.90,297.54 308.40,297.69 308.90,297.85 309.40,298.00 309.90,298.16 310.40,298.31 310.90,298.46 311.40,298.60 311.90,298.75 312.40,298.89 312.90,299.04 313.40,299.18 313.90,299.31 314.40,299.45 314.90,299.59 315.40,299.72 315.90,299.85 316.40,299.98 316.90,300.11 317.40,300.24 317.90,300.36 318.40,300.48 318.90,300.60 319.40,300.72 319.90,300.84 320.40,300.95 320.90,301.07 321.40,301.18 321.90,301.29 322.40,301.39 322.90,301.50 323.40,301.60 323.90,301.70 324.40,301.80 324.90,301.90 325.40,302.00 325.90,302.09 326.40,302.18 326.90,302.27 327.40,302.36 327.90,302.44 328.40,302.53 328.90,302.61 329.40,302.69 329.90,302.76 330.40,302.84 330.90,302.91 331.40,302.98 331.90,303.05 332.40,303.12 332.90,303.18 333.40,303.25 333.90,303.31 334.40,303.36 334.90,303.42 335.40,303.47 335.90,303.53 336.40,303.58 336.90,303.63 337.40,303.67 337.90,303.72 338.40,303.76 338.90,303.80 339.40,303.84 339.90,303.87 340.40,303.91 340.90,303.94 341.40,303.97 341.90,304.00 342.40,304.03 342.90,304.06 343.40,304.08 343.90,304.10 344.40,304.12 344.90,304.14 345.40,304.16 345.90,304.17 346.40,304.19 346.90,304.20 347.40,304.21 347.90,304.22 348.40,304.23 348.90,304.23 349.40,304.24 349.90,304.24 350.40,304.24 350.90,304.24 351.40,304.24 351.90,304.23 352.40,304.23 352.90,304.22 353.40,304.21 353.90,304.20 354.40,304.19 354.90,304.18 355.40,304.16 355.90,304.15 356.40,304.13 356.90,304.11 357.40,304.09 357.90,304.07 358.40,304.05 358.90,304.03 359.40,304.00 359.90,303.98 360.40,303.95 360.90,303.92 361.40,303.89 361.90,303.86 362.40,303.83 362.90,303.80 363.40,303.76 363.90,303.73 364.40,303.69 364.90,303.65 365.40,303.61 365.90,303.57 366.40,303.53 366.90,303.49 367.40,303.45 367.90,303.40 368.40,303.36 368.90,303.31 369.40,303.27 369.90,303.22 370.40,303.17 370.90,303.12 371.40,303.07 371.90,303.02 372.40,302.97 372.90,302.91 373.40,302.86 373.90,302.80 374.40,302.75 374.90,302.69 375.40,302.63 375.90,302.58 376.40,302.52 376.90,302.46 377.40,302.40 377.90,302.34 378.40,302.27 378.90,302.21 379.40,302.15 379.90,302.08 380.40,302.02 380.90,301.95 381.40,301.89 381.90,301.82 382.40,301.76 382.90,301.69 383.40,301.62 383.90,301.55 384.40,301.48 384.90,301.41 385.40,301.34 385.90,301.27 386.40,301.20 386.90,301.13 387.40,301.06 387.90,300.99 388.40,300.92 388.90,300.84 389.40,300.77 389.90,300.70 390.40,300.62 390.90,300.55 391.40,300.47 391.90,300.40 392.40,300.33 392.90,300.25 393.40,300.17 393.90,300.10 394.40,300.02 394.90,299.95 395.40,299.87 395.90,299.80 396.40,299.72 396.90,299.64 397.40,299.57 397.90,299.49 398.40,299.41 398.90,299.34 399.40,299.26 399.90,299.18 400.40,299.10 400.90,299.03 401.40,298.95 401.90,298.87 402.40,298.80 402.90,298.72 403.40,298.64 403.90,298.57 404.40,298.49 404.90,298.41 405.40,298.34 405.90,298.26 406.40,298.19 406.90,298.11 407.40,298.03 407.90,297.96 408.40,297.88 408.90,297.81 409.40,297.74 409.90,297.66 410.40,297.59 410.90,297.51 411.40,297.44 411.90,297.37 412.40,297.29 412.90,297.22 413.40,297.15 413.90,297.08 414.40,297.01 414.90,296.94 415.40,296.87 415.90,296.80 416.40,296.73 416.90,296.66 417.40,296.59 417.90,296.52 418.40,296.46 418.90,296.39 419.40,296.32 419.90,296.26 420.40,296.19 420.90,296.13 421.20,296.09" fill="none" stroke="#dd7a35" stroke-width="1.1"/>
<line x1="245.40" y1="305.40" x2="431.80" y2="305.40" stroke="#333" stroke-width="1.0" stroke-dasharray="2.0,1.64"/>
<path d="M245.4,325.5 L245.4,196.0 L432.8,196.0 L432.8,325.5 Z" fill="none" stroke="#bdbdbd" stroke-width="1.1"/>
<line x1="243.80" y1="319.80" x2="245.40" y2="319.80" stroke="#555" stroke-width="0.7"/>
<text x="243.00" y="322.00" text-anchor="end" font-family="'Liberation Serif', serif" font-size="6.6" fill="#3a3a3a" stroke="#3a3a3a" stroke-width="0.1">0</text>
<line x1="243.80" y1="290.22" x2="245.40" y2="290.22" stroke="#555" stroke-width="0.7"/>
<text x="243.00" y="292.42" text-anchor="end" font-family="'Liberation Serif', serif" font-size="6.6" fill="#3a3a3a" stroke="#3a3a3a" stroke-width="0.1">2</text>
<line x1="243.80" y1="260.64" x2="245.40" y2="260.64" stroke="#555" stroke-width="0.7"/>
<text x="243.00" y="262.84" text-anchor="end" font-family="'Liberation Serif', serif" font-size="6.6" fill="#3a3a3a" stroke="#3a3a3a" stroke-width="0.1">4</text>
<line x1="243.80" y1="231.06" x2="245.40" y2="231.06" stroke="#555" stroke-width="0.7"/>
<text x="243.00" y="233.26" text-anchor="end" font-family="'Liberation Serif', serif" font-size="6.6" fill="#3a3a3a" stroke="#3a3a3a" stroke-width="0.1">6</text>
<line x1="243.80" y1="201.48" x2="245.40" y2="201.48" stroke="#555" stroke-width="0.7"/>
<text x="243.00" y="203.68" text-anchor="end" font-family="'Liberation Serif', serif" font-size="6.6" fill="#3a3a3a" stroke="#3a3a3a" stroke-width="0.1">8</text>
<line x1="432.80" y1="325.50" x2="434.40" y2="325.50" stroke="#555" stroke-width="0.7"/>
<text x="435.10" y="327.70" font-family="'Liberation Serif', serif" font-size="6.6" fill="#3a3a3a" stroke="#3a3a3a" stroke-width="0.1">0.0</text>
<line x1="432.80" y1="282.33" x2="434.40" y2="282.33" stroke="#555" stroke-width="0.7"/>
<text x="435.10" y="284.53" font-family="'Liberation Serif', serif" font-size="6.6" fill="#3a3a3a" stroke="#3a3a3a" stroke-width="0.1">0.5</text>
<line x1="432.80" y1="239.17" x2="434.40" y2="239.17" stroke="#555" stroke-width="0.7"/>
<text x="435.10" y="241.37" font-family="'Liberation Serif', serif" font-size="6.6" fill="#3a3a3a" stroke="#3a3a3a" stroke-width="0.1">1.0</text>
<line x1="432.80" y1="196.00" x2="434.40" y2="196.00" stroke="#555" stroke-width="0.7"/>
<text x="435.10" y="198.20" font-family="'Liberation Serif', serif" font-size="6.6" fill="#3a3a3a" stroke="#3a3a3a" stroke-width="0.1">1.5</text>
<line x1="253.50" y1="325.50" x2="253.50" y2="327.10" stroke="#555" stroke-width="0.7"/>
<text x="253.50" y="332.30" text-anchor="middle" font-family="'Liberation Serif', serif" font-size="6.6" fill="#3a3a3a" stroke="#3a3a3a" stroke-width="0.1">-2</text>
<line x1="299.80" y1="325.50" x2="299.80" y2="327.10" stroke="#555" stroke-width="0.7"/>
<text x="299.80" y="332.30" text-anchor="middle" font-family="'Liberation Serif', serif" font-size="6.6" fill="#3a3a3a" stroke="#3a3a3a" stroke-width="0.1">-1</text>
<line x1="346.10" y1="325.50" x2="346.10" y2="327.10" stroke="#555" stroke-width="0.7"/>
<text x="346.10" y="332.30" text-anchor="middle" font-family="'Liberation Serif', serif" font-size="6.6" fill="#3a3a3a" stroke="#3a3a3a" stroke-width="0.1">0</text>
<line x1="392.40" y1="325.50" x2="392.40" y2="327.10" stroke="#555" stroke-width="0.7"/>
<text x="392.40" y="332.30" text-anchor="middle" font-family="'Liberation Serif', serif" font-size="6.6" fill="#3a3a3a" stroke="#3a3a3a" stroke-width="0.1">1</text>
<text x="339.10" y="338.30" text-anchor="middle" font-family="'Liberation Serif', serif" font-size="4.3" fill="#111" stroke="#111" stroke-width="0.15">TTR Levels (NPX)</text>
<text transform="translate(237.80,259.75) rotate(-90)" text-anchor="middle" font-family="'Liberation Serif', serif" font-size="4.4" fill="#111" stroke="#111" stroke-width="0.15">Hazard ratio (95% CI)</text>
<text transform="translate(445.40,260.75) rotate(90)" text-anchor="middle" font-family="'Liberation Serif', serif" font-size="4.3" fill="#111" stroke="#111" stroke-width="0.15">Fraction of population (density)</text>
<text x="245.00" y="183.70" font-family="'Liberation Sans', sans-serif" font-weight="bold" font-size="5.3" fill="#3a2f2f" stroke="#3a2f2f" stroke-width="0.15">D. Cardiac block</text>
<text x="493.90" y="209.70" font-family="'Liberation Serif', serif" font-size="4.45" fill="#111" stroke="#111" stroke-width="0.15">P for overall = 0.114</text>
<text x="493.90" y="214.90" font-family="'Liberation Serif', serif" font-size="4.45" fill="#111" stroke="#111" stroke-width="0.15">P for nonlinear = 0.363</text>
<polygon points="495.20,202.19 495.70,203.62 496.20,205.04 496.70,206.45 497.20,207.84 497.70,209.22 498.20,210.59 498.70,211.94 499.20,213.28 499.70,214.61 500.20,215.93 500.70,217.24 501.20,218.53 501.70,219.81 502.20,221.08 502.70,222.33 503.20,223.58 503.70,224.81 504.20,226.03 504.70,227.24 505.20,228.43 505.70,229.62 506.20,230.79 506.70,231.95 507.20,233.10 507.70,234.24 508.20,235.36 508.70,236.48 509.20,237.58 509.70,238.67 510.20,239.75 510.70,240.82 511.20,241.88 511.70,242.92 512.20,243.96 512.70,244.98 513.20,246.00 513.70,247.00 514.20,247.99 514.70,248.97 515.20,249.94 515.70,250.90 516.20,251.85 516.70,252.79 517.20,253.72 517.70,254.63 518.20,255.54 518.70,256.44 519.20,257.32 519.70,258.20 520.20,259.07 520.70,259.92 521.20,260.77 521.70,261.60 522.20,262.43 522.70,263.25 523.20,264.05 523.70,264.85 524.20,265.64 524.70,266.41 525.20,267.18 525.70,267.94 526.20,268.69 526.70,269.43 527.20,270.15 527.70,270.88 528.20,271.59 528.70,272.29 529.20,272.98 529.70,273.66 530.20,274.34 530.70,275.01 531.20,275.66 531.70,276.31 532.20,276.95 532.70,277.58 533.20,278.20 533.70,278.81 534.20,279.42 534.70,280.01 535.20,280.60 535.70,281.18 536.20,281.75 536.70,282.32 537.20,282.87 537.70,283.42 538.20,283.95 538.70,284.48 539.20,285.01 539.70,285.52 540.20,286.03 540.70,286.53 541.20,287.02 541.70,287.50 542.20,287.97 542.70,288.44 543.20,288.90 543.70,289.36 544.20,289.80 544.70,290.24 545.20,290.67 545.70,291.09 546.20,291.51 546.70,291.92 547.20,292.32 547.70,292.72 548.20,293.10 548.70,293.49 549.20,293.86 549.70,294.23 550.20,294.59 550.70,294.94 551.20,295.29 551.70,295.63 552.20,295.97 552.70,296.29 553.20,296.62 553.70,296.93 554.20,297.24 554.70,297.54 555.20,297.84 555.70,298.13 556.20,298.42 556.70,298.69 557.20,298.97 557.70,299.23 558.20,299.50 558.70,299.75 559.20,300.00 559.70,300.24 560.20,300.48 560.70,300.72 561.20,300.94 561.70,301.17 562.20,301.38 562.70,301.59 563.20,301.80 563.70,302.00 564.20,302.20 564.70,302.39 565.20,302.57 565.70,302.75 566.20,302.93 566.70,303.10 567.20,303.26 567.70,303.42 568.20,303.58 568.70,303.73 569.20,303.87 569.70,304.01 570.20,304.15 570.70,304.28 571.20,304.40 571.70,304.52 572.20,304.64 572.70,304.75 573.20,304.86 573.70,304.96 574.20,305.05 574.70,305.15 575.20,305.23 575.70,305.31 576.20,305.39 576.70,305.46 577.20,305.53 577.70,305.60 578.20,305.66 578.70,305.71 579.20,305.76 579.70,305.80 580.20,305.85 580.70,305.88 581.20,305.91 581.70,305.94 582.20,305.96 582.70,305.98 583.20,306.00 583.70,306.01 584.20,306.01 584.70,306.01 585.20,306.01 585.70,306.00 586.20,305.99 586.70,305.97 587.20,305.95 587.70,305.93 588.20,305.90 588.70,305.87 589.20,305.83 589.70,305.79 590.20,305.74 590.70,305.69 591.20,305.64 591.70,305.58 592.20,305.52 592.70,305.46 593.20,305.39 593.70,305.31 594.20,305.24 594.70,305.16 595.20,305.07 595.70,304.98 596.20,304.89 596.70,304.79 597.20,304.69 597.70,304.59 598.20,304.48 598.70,304.37 599.20,304.25 599.70,304.13 600.20,304.01 600.70,303.89 601.20,303.76 601.70,303.62 602.20,303.49 602.70,303.34 603.20,303.20 603.70,303.05 604.20,302.90 604.70,302.75 605.20,302.59 605.70,302.43 606.20,302.26 606.70,302.09 607.20,301.92 607.70,301.74 608.20,301.57 608.70,301.38 609.20,301.20 609.70,301.00 610.20,300.81 610.70,300.61 611.20,300.41 611.70,300.20 612.20,299.99 612.70,299.77 613.20,299.56 613.70,299.33 614.20,299.10 614.70,298.87 615.20,298.63 615.70,298.39 616.20,298.14 616.70,297.89 617.20,297.63 617.70,297.37 618.20,297.10 618.70,296.83 619.20,296.55 619.70,296.27 620.20,295.98 620.70,295.69 621.20,295.39 621.70,295.08 622.20,294.77 622.70,294.46 623.20,294.14 623.70,293.81 624.20,293.48 624.70,293.14 625.20,292.79 625.70,292.44 626.20,292.08 626.70,291.72 627.20,291.35 627.70,290.97 628.20,290.59 628.70,290.20 629.20,289.81 629.70,289.40 630.20,289.00 630.70,288.58 631.20,288.16 631.70,287.73 632.20,287.29 632.70,286.85 633.20,286.40 633.70,285.94 634.20,285.47 634.70,285.00 635.20,284.52 635.70,284.03 636.20,283.54 636.70,283.03 637.20,282.52 637.70,282.01 638.20,281.48 638.70,280.95 639.20,280.41 639.70,279.86 640.20,279.30 640.70,278.73 641.20,278.16 641.70,277.57 642.20,276.98 642.70,276.38 643.20,275.78 643.70,275.16 644.20,274.53 644.70,273.90 645.20,273.26 645.70,272.61 646.20,271.95 646.70,271.28 647.20,270.60 647.70,269.91 648.20,269.21 648.70,268.51 649.20,267.79 649.70,267.07 650.20,266.33 650.70,265.59 651.20,264.84 651.70,264.07 652.20,263.30 652.70,262.52 653.20,261.72 653.70,260.92 654.20,260.11 654.70,259.29 655.20,258.45 655.70,257.61 656.20,256.76 656.70,255.89 657.10,255.19 657.10,312.82 656.70,312.82 656.20,312.82 655.70,312.82 655.20,312.82 654.70,312.82 654.20,312.82 653.70,312.81 653.20,312.81 652.70,312.80 652.20,312.79 651.70,312.78 651.20,312.78 650.70,312.76 650.20,312.75 649.70,312.74 649.20,312.73 648.70,312.71 648.20,312.70 647.70,312.68 647.20,312.67 646.70,312.65 646.20,312.63 645.70,312.61 645.20,312.59 644.70,312.57 644.20,312.55 643.70,312.53 643.20,312.51 642.70,312.48 642.20,312.46 641.70,312.44 641.20,312.41 640.70,312.38 640.20,312.36 639.70,312.33 639.20,312.30 638.70,312.27 638.20,312.24 637.70,312.21 637.20,312.18 636.70,312.15 636.20,312.12 635.70,312.09 635.20,312.06 634.70,312.02 634.20,311.99 633.70,311.95 633.20,311.92 632.70,311.88 632.20,311.85 631.70,311.81 631.20,311.78 630.70,311.74 630.20,311.70 629.70,311.67 629.20,311.63 628.70,311.59 628.20,311.55 627.70,311.51 627.20,311.47 626.70,311.43 626.20,311.39 625.70,311.35 625.20,311.31 624.70,311.27 624.20,311.23 623.70,311.19 623.20,311.15 622.70,311.11 622.20,311.07 621.70,311.02 621.20,310.98 620.70,310.94 620.20,310.90 619.70,310.86 619.20,310.81 618.70,310.77 618.20,310.73 617.70,310.69 617.20,310.64 616.70,310.60 616.20,310.56 615.70,310.52 615.20,310.47 614.70,310.43 614.20,310.39 613.70,310.34 613.20,310.30 612.70,310.26 612.20,310.22 611.70,310.18 611.20,310.13 610.70,310.09 610.20,310.05 609.70,310.01 609.20,309.97 608.70,309.92 608.20,309.88 607.70,309.84 607.20,309.80 606.70,309.76 606.20,309.72 605.70,309.68 605.20,309.64 604.70,309.60 604.20,309.56 603.70,309.52 603.20,309.49 602.70,309.45 602.20,309.41 601.70,309.37 601.20,309.34 600.70,309.30 600.20,309.26 599.70,309.23 599.20,309.19 598.70,309.16 598.20,309.12 597.70,309.09 597.20,309.06 596.70,309.02 596.20,308.99 595.70,308.96 595.20,308.93 594.70,308.90 594.20,308.87 593.70,308.84 593.20,308.81 592.70,308.78 592.20,308.75 591.70,308.72 591.20,308.70 590.70,308.67 590.20,308.65 589.70,308.62 589.20,308.60 588.70,308.57 588.20,308.55 587.70,308.53 587.20,308.51 586.70,308.49 586.20,308.47 585.70,308.45 585.20,308.43 584.70,308.42 584.20,308.40 583.70,308.38 583.20,308.37 582.70,308.36 582.20,308.34 581.70,308.33 581.20,308.32 580.70,308.31 580.20,308.30 579.70,308.29 579.20,308.28 578.70,308.28 578.20,308.27 577.70,308.27 577.20,308.26 576.70,308.26 576.20,308.26 575.70,308.25 575.20,308.25 574.70,308.25 574.20,308.25 573.70,308.25 573.20,308.25 572.70,308.26 572.20,308.26 571.70,308.26 571.20,308.27 570.70,308.27 570.20,308.28 569.70,308.28 569.20,308.29 568.70,308.30 568.20,308.31 567.70,308.32 567.20,308.33 566.70,308.34 566.20,308.35 565.70,308.36 565.20,308.37 564.70,308.39 564.20,308.40 563.70,308.42 563.20,308.43 562.70,308.45 562.20,308.46 561.70,308.48 561.20,308.50 560.70,308.51 560.20,308.53 559.70,308.55 559.20,308.57 558.70,308.59 558.20,308.61 557.70,308.63 557.20,308.65 556.70,308.68 556.20,308.70 555.70,308.72 555.20,308.75 554.70,308.77 554.20,308.80 553.70,308.82 553.20,308.85 552.70,308.87 552.20,308.90 551.70,308.93 551.20,308.95 550.70,308.98 550.20,309.01 549.70,309.04 549.20,309.07 548.70,309.10 548.20,309.13 547.70,309.16 547.20,309.19 546.70,309.22 546.20,309.25 545.70,309.28 545.20,309.32 544.70,309.35 544.20,309.38 543.70,309.42 543.20,309.45 542.70,309.48 542.20,309.52 541.70,309.55 541.20,309.59 540.70,309.63 540.20,309.66 539.70,309.70 539.20,309.73 538.70,309.77 538.20,309.81 537.70,309.84 537.20,309.88 536.70,309.92 536.20,309.96 535.70,310.00 535.20,310.03 534.70,310.07 534.20,310.11 533.70,310.15 533.20,310.19 532.70,310.23 532.20,310.27 531.70,310.31 531.20,310.35 530.70,310.39 530.20,310.43 529.70,310.47 529.20,310.51 528.70,310.55 528.20,310.60 527.70,310.64 527.20,310.68 526.70,310.72 526.20,310.76 525.70,310.80 525.20,310.85 524.70,310.89 524.20,310.93 523.70,310.97 523.20,311.01 522.70,311.06 522.20,311.10 521.70,311.14 521.20,311.18 520.70,311.23 520.20,311.27 519.70,311.31 519.20,311.35 518.70,311.40 518.20,311.44 517.70,311.48 517.20,311.53 516.70,311.57 516.20,311.61 515.70,311.65 515.20,311.70 514.70,311.74 514.20,311.78 513.70,311.83 513.20,311.87 512.70,311.91 512.20,311.95 511.70,312.00 511.20,312.04 510.70,312.08 510.20,312.12 509.70,312.17 509.20,312.21 508.70,312.25 508.20,312.29 507.70,312.33 507.20,312.37 506.70,312.42 506.20,312.46 505.70,312.50 505.20,312.54 504.70,312.58 504.20,312.62 503.70,312.66 503.20,312.70 502.70,312.74 502.20,312.78 501.70,312.82 501.20,312.86 500.70,312.90 500.20,312.94 499.70,312.98 499.20,313.02 498.70,313.06 498.20,313.09 497.70,313.13 497.20,313.17 496.70,313.21 496.20,313.24 495.70,313.28 495.20,313.32" fill="#f1cfb4" stroke="none"/>
<rect x="520.96" y="319.74" width="3.43" height="0.06" fill="#a9d8f4" stroke="#404448" stroke-width="0.75"/>
<rect x="524.39" y="319.72" width="3.43" height="0.08" fill="#a9d8f4" stroke="#404448" stroke-width="0.75"/>
<rect x="527.82" y="319.69" width="3.43" height="0.11" fill="#a9d8f4" stroke="#404448" stroke-width="0.75"/>
<rect x="531.25" y="319.65" width="3.43" height="0.15" fill="#a9d8f4" stroke="#404448" stroke-width="0.75"/>
<rect x="534.68" y="319.57" width="3.43" height="0.23" fill="#a9d8f4" stroke="#404448" stroke-width="0.75"/>
<rect x="538.11" y="319.50" width="3.43" height="0.30" fill="#a9d8f4" stroke="#404448" stroke-width="0.75"/>
<rect x="541.54" y="319.04" width="3.43" height="0.76" fill="#a9d8f4" stroke="#404448" stroke-width="0.75"/>
<rect x="544.97" y="318.28" width="3.43" height="1.52" fill="#a9d8f4" stroke="#404448" stroke-width="0.75"/>
<rect x="548.40" y="317.37" width="3.43" height="2.43" fill="#a9d8f4" stroke="#404448" stroke-width="0.75"/>
<rect x="551.83" y="315.86" width="3.43" height="3.94" fill="#a9d8f4" stroke="#404448" stroke-width="0.75"/>
<rect x="555.26" y="312.75" width="3.43" height="7.05" fill="#a9d8f4" stroke="#404448" stroke-width="0.75"/>
<rect x="558.69" y="309.34" width="3.43" height="10.46" fill="#a9d8f4" stroke="#404448" stroke-width="0.75"/>
<rect x="562.12" y="304.26" width="3.43" height="15.54" fill="#a9d8f4" stroke="#404448" stroke-width="0.75"/>
<rect x="565.55" y="294.18" width="3.43" height="25.62" fill="#a9d8f4" stroke="#404448" stroke-width="0.75"/>
<rect x="568.98" y="286.22" width="3.43" height="33.58" fill="#a9d8f4" stroke="#404448" stroke-width="0.75"/>
<rect x="572.41" y="273.56" width="3.43" height="46.24" fill="#a9d8f4" stroke="#404448" stroke-width="0.75"/>
<rect x="575.84" y="262.72" width="3.43" height="57.08" fill="#a9d8f4" stroke="#404448" stroke-width="0.75"/>
<rect x="579.27" y="256.36" width="3.43" height="63.44" fill="#a9d8f4" stroke="#404448" stroke-width="0.75"/>
<rect x="582.70" y="244.00" width="3.43" height="75.80" fill="#a9d8f4" stroke="#404448" stroke-width="0.75"/>
<rect x="586.13" y="252.94" width="3.43" height="66.86" fill="#a9d8f4" stroke="#404448" stroke-width="0.75"/>
<rect x="589.56" y="261.43" width="3.43" height="58.37" fill="#a9d8f4" stroke="#404448" stroke-width="0.75"/>
<rect x="592.99" y="270.38" width="3.43" height="49.42" fill="#a9d8f4" stroke="#404448" stroke-width="0.75"/>
<rect x="596.42" y="283.26" width="3.43" height="36.54" fill="#a9d8f4" stroke="#404448" stroke-width="0.75"/>
<rect x="599.85" y="294.18" width="3.43" height="25.62" fill="#a9d8f4" stroke="#404448" stroke-width="0.75"/>
<rect x="603.28" y="304.03" width="3.43" height="15.77" fill="#a9d8f4" stroke="#404448" stroke-width="0.75"/>
<rect x="606.71" y="310.10" width="3.43" height="9.70" fill="#a9d8f4" stroke="#404448" stroke-width="0.75"/>
<rect x="610.14" y="315.10" width="3.43" height="4.70" fill="#a9d8f4" stroke="#404448" stroke-width="0.75"/>
<rect x="613.57" y="317.68" width="3.43" height="2.12" fill="#a9d8f4" stroke="#404448" stroke-width="0.75"/>
<rect x="617.00" y="318.51" width="3.43" height="1.29" fill="#a9d8f4" stroke="#404448" stroke-width="0.75"/>
<rect x="620.43" y="319.19" width="3.43" height="0.61" fill="#a9d8f4" stroke="#404448" stroke-width="0.75"/>
<rect x="623.86" y="319.50" width="3.43" height="0.30" fill="#a9d8f4" stroke="#404448" stroke-width="0.75"/>
<rect x="627.29" y="319.65" width="3.43" height="0.15" fill="#a9d8f4" stroke="#404448" stroke-width="0.75"/>
<rect x="630.72" y="319.71" width="3.43" height="0.09" fill="#a9d8f4" stroke="#404448" stroke-width="0.75"/>
<rect x="634.15" y="319.74" width="3.43" height="0.06" fill="#a9d8f4" stroke="#404448" stroke-width="0.75"/>
<line x1="493.40" y1="319.80" x2="660.80" y2="319.80" stroke="#a8a8a8" stroke-width="1.5"/>
<polyline points="495.20,292.43 495.70,292.55 496.20,292.67 496.70,292.79 497.20,292.91 497.70,293.03 498.20,293.15 498.70,293.27 499.20,293.39 499.70,293.51 500.20,293.63 500.70,293.75 501.20,293.87 501.70,293.99 502.20,294.10 502.70,294.22 503.20,294.34 503.70,294.46 504.20,294.57 504.70,294.69 505.20,294.80 505.70,294.92 506.20,295.03 506.70,295.15 507.20,295.26 507.70,295.38 508.20,295.49 508.70,295.61 509.20,295.72 509.70,295.83 510.20,295.94 510.70,296.06 511.20,296.17 511.70,296.28 512.20,296.39 512.70,296.50 513.20,296.61 513.70,296.72 514.20,296.83 514.70,296.94 515.20,297.05 515.70,297.16 516.20,297.26 516.70,297.37 517.20,297.48 517.70,297.58 518.20,297.69 518.70,297.80 519.20,297.90 519.70,298.01 520.20,298.11 520.70,298.21 521.20,298.32 521.70,298.42 522.20,298.52 522.70,298.63 523.20,298.73 523.70,298.83 524.20,298.93 524.70,299.03 525.20,299.13 525.70,299.23 526.20,299.33 526.70,299.43 527.20,299.52 527.70,299.62 528.20,299.72 528.70,299.81 529.20,299.91 529.70,300.00 530.20,300.10 530.70,300.19 531.20,300.29 531.70,300.38 532.20,300.47 532.70,300.57 533.20,300.66 533.70,300.75 534.20,300.84 534.70,300.93 535.20,301.02 535.70,301.11 536.20,301.20 536.70,301.28 537.20,301.37 537.70,301.46 538.20,301.54 538.70,301.63 539.20,301.71 539.70,301.80 540.20,301.88 540.70,301.97 541.20,302.05 541.70,302.13 542.20,302.21 542.70,302.29 543.20,302.37 543.70,302.45 544.20,302.53 544.70,302.61 545.20,302.69 545.70,302.77 546.20,302.84 546.70,302.92 547.20,302.99 547.70,303.07 548.20,303.14 548.70,303.21 549.20,303.29 549.70,303.36 550.20,303.43 550.70,303.50 551.20,303.57 551.70,303.64 552.20,303.71 552.70,303.78 553.20,303.84 553.70,303.91 554.20,303.98 554.70,304.04 555.20,304.11 555.70,304.17 556.20,304.23 556.70,304.30 557.20,304.36 557.70,304.42 558.20,304.48 558.70,304.54 559.20,304.60 559.70,304.66 560.20,304.71 560.70,304.77 561.20,304.83 561.70,304.88 562.20,304.94 562.70,304.99 563.20,305.04 563.70,305.10 564.20,305.15 564.70,305.20 565.20,305.25 565.70,305.30 566.20,305.34 566.70,305.39 567.20,305.44 567.70,305.49 568.20,305.53 568.70,305.57 569.20,305.62 569.70,305.66 570.20,305.70 570.70,305.74 571.20,305.78 571.70,305.82 572.20,305.86 572.70,305.90 573.20,305.94 573.70,305.97 574.20,306.01 574.70,306.04 575.20,306.08 575.70,306.11 576.20,306.14 576.70,306.17 577.20,306.21 577.70,306.23 578.20,306.26 578.70,306.29 579.20,306.32 579.70,306.34 580.20,306.37 580.70,306.39 581.20,306.42 581.70,306.44 582.20,306.46 582.70,306.48 583.20,306.50 583.70,306.52 584.20,306.54 584.70,306.56 585.20,306.57 585.70,306.59 586.20,306.60 586.70,306.61 587.20,306.63 587.70,306.64 588.20,306.65 588.70,306.66 589.20,306.67 589.70,306.67 590.20,306.68 590.70,306.69 591.20,306.69 591.70,306.70 592.20,306.70 592.70,306.70 593.20,306.70 593.70,306.70 594.20,306.70 594.70,306.70 595.20,306.70 595.70,306.69 596.20,306.69 596.70,306.68 597.20,306.67 597.70,306.66 598.20,306.66 598.70,306.65 599.20,306.63 599.70,306.62 600.20,306.61 600.70,306.59 601.20,306.58 601.70,306.56 602.20,306.55 602.70,306.53 603.20,306.51 603.70,306.49 604.20,306.47 604.70,306.44 605.20,306.42 605.70,306.39 606.20,306.37 606.70,306.34 607.20,306.31 607.70,306.28 608.20,306.25 608.70,306.22 609.20,306.19 609.70,306.16 610.20,306.12 610.70,306.09 611.20,306.05 611.70,306.02 612.20,305.98 612.70,305.94 613.20,305.90 613.70,305.86 614.20,305.82 614.70,305.77 615.20,305.73 615.70,305.69 616.20,305.64 616.70,305.60 617.20,305.55 617.70,305.50 618.20,305.45 618.70,305.40 619.20,305.35 619.70,305.30 620.20,305.25 620.70,305.20 621.20,305.15 621.70,305.09 622.20,305.04 622.70,304.99 623.20,304.93 623.70,304.87 624.20,304.82 624.70,304.76 625.20,304.70 625.70,304.64 626.20,304.58 626.70,304.52 627.20,304.46 627.70,304.40 628.20,304.34 628.70,304.28 629.20,304.22 629.70,304.15 630.20,304.09 630.70,304.03 631.20,303.96 631.70,303.90 632.20,303.83 632.70,303.77 633.20,303.70 633.70,303.63 634.20,303.57 634.70,303.50 635.20,303.43 635.70,303.36 636.20,303.29 636.70,303.22 637.20,303.16 637.70,303.09 638.20,303.02 638.70,302.95 639.20,302.88 639.70,302.81 640.20,302.73 640.70,302.66 641.20,302.59 641.70,302.52 642.20,302.45 642.70,302.38 643.20,302.31 643.70,302.23 644.20,302.16 644.70,302.09 645.20,302.02 645.70,301.94 646.20,301.87 646.70,301.80 647.20,301.72 647.70,301.65 648.20,301.58 648.70,301.51 649.20,301.43 649.70,301.36 650.20,301.29 650.70,301.21 651.20,301.14 651.70,301.07 652.20,300.99 652.70,300.92 653.20,300.85 653.70,300.78 654.20,300.70 654.70,300.63 655.20,300.56 655.70,300.49 656.20,300.41 656.70,300.34 657.10,300.28" fill="none" stroke="#dd7a35" stroke-width="1.1"/>
<line x1="485.60" y1="307.40" x2="667.50" y2="307.40" stroke="#333" stroke-width="1.0" stroke-dasharray="2.0,1.64"/>
<path d="M485.6,325.5 L485.6,196.0 L668.5,196.0 L668.5,325.5 Z" fill="none" stroke="#bdbdbd" stroke-width="1.1"/>
<line x1="484.00" y1="319.80" x2="485.60" y2="319.80" stroke="#555" stroke-width="0.7"/>
<text x="483.20" y="322.00" text-anchor="end" font-family="'Liberation Serif', serif" font-size="6.6" fill="#3a3a3a" stroke="#3a3a3a" stroke-width="0.1">0.0</text>
<line x1="484.00" y1="288.38" x2="485.60" y2="288.38" stroke="#555" stroke-width="0.7"/>
<text x="483.20" y="290.57" text-anchor="end" font-family="'Liberation Serif', serif" font-size="6.6" fill="#3a3a3a" stroke="#3a3a3a" stroke-width="0.1">2.5</text>
<line x1="484.00" y1="256.95" x2="485.60" y2="256.95" stroke="#555" stroke-width="0.7"/>
<text x="483.20" y="259.15" text-anchor="end" font-family="'Liberation Serif', serif" font-size="6.6" fill="#3a3a3a" stroke="#3a3a3a" stroke-width="0.1">5.0</text>
<line x1="484.00" y1="225.53" x2="485.60" y2="225.53" stroke="#555" stroke-width="0.7"/>
<text x="483.20" y="227.72" text-anchor="end" font-family="'Liberation Serif', serif" font-size="6.6" fill="#3a3a3a" stroke="#3a3a3a" stroke-width="0.1">7.5</text>
<line x1="668.50" y1="325.50" x2="670.10" y2="325.50" stroke="#555" stroke-width="0.7"/>
<text x="670.80" y="327.70" font-family="'Liberation Serif', serif" font-size="6.6" fill="#3a3a3a" stroke="#3a3a3a" stroke-width="0.1">0.0</text>
<line x1="668.50" y1="282.33" x2="670.10" y2="282.33" stroke="#555" stroke-width="0.7"/>
<text x="670.80" y="284.53" font-family="'Liberation Serif', serif" font-size="6.6" fill="#3a3a3a" stroke="#3a3a3a" stroke-width="0.1">0.5</text>
<line x1="668.50" y1="239.17" x2="670.10" y2="239.17" stroke="#555" stroke-width="0.7"/>
<text x="670.80" y="241.37" font-family="'Liberation Serif', serif" font-size="6.6" fill="#3a3a3a" stroke="#3a3a3a" stroke-width="0.1">1.0</text>
<line x1="668.50" y1="196.00" x2="670.10" y2="196.00" stroke="#555" stroke-width="0.7"/>
<text x="670.80" y="198.20" font-family="'Liberation Serif', serif" font-size="6.6" fill="#3a3a3a" stroke="#3a3a3a" stroke-width="0.1">1.5</text>
<line x1="493.40" y1="325.50" x2="493.40" y2="327.10" stroke="#555" stroke-width="0.7"/>
<text x="493.40" y="332.30" text-anchor="middle" font-family="'Liberation Serif', serif" font-size="6.6" fill="#3a3a3a" stroke="#3a3a3a" stroke-width="0.1">-2</text>
<line x1="538.60" y1="325.50" x2="538.60" y2="327.10" stroke="#555" stroke-width="0.7"/>
<text x="538.60" y="332.30" text-anchor="middle" font-family="'Liberation Serif', serif" font-size="6.6" fill="#3a3a3a" stroke="#3a3a3a" stroke-width="0.1">-1</text>
<line x1="583.80" y1="325.50" x2="583.80" y2="327.10" stroke="#555" stroke-width="0.7"/>
<text x="583.80" y="332.30" text-anchor="middle" font-family="'Liberation Serif', serif" font-size="6.6" fill="#3a3a3a" stroke="#3a3a3a" stroke-width="0.1">0</text>
<line x1="629.00" y1="325.50" x2="629.00" y2="327.10" stroke="#555" stroke-width="0.7"/>
<text x="629.00" y="332.30" text-anchor="middle" font-family="'Liberation Serif', serif" font-size="6.6" fill="#3a3a3a" stroke="#3a3a3a" stroke-width="0.1">1</text>
<text x="577.05" y="338.30" text-anchor="middle" font-family="'Liberation Serif', serif" font-size="4.3" fill="#111" stroke="#111" stroke-width="0.15">TTR Levels (NPX)</text>
<text transform="translate(472.20,259.75) rotate(-90)" text-anchor="middle" font-family="'Liberation Serif', serif" font-size="4.4" fill="#111" stroke="#111" stroke-width="0.15">Hazard ratio (95% CI)</text>
<text transform="translate(681.10,260.75) rotate(90)" text-anchor="middle" font-family="'Liberation Serif', serif" font-size="4.3" fill="#111" stroke="#111" stroke-width="0.15">Fraction of population (density)</text>
<text x="484.50" y="183.70" font-family="'Liberation Sans', sans-serif" font-weight="bold" font-size="5.3" fill="#3a2f2f" stroke="#3a2f2f" stroke-width="0.15">E. Ventricular arrhythmias</text>
</g>
</svg>
</body></html>
